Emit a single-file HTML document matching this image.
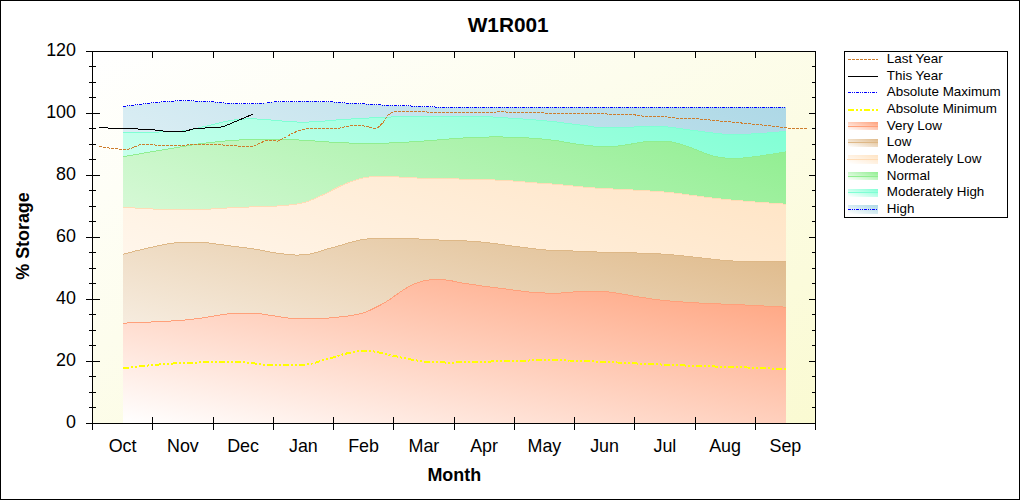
<!DOCTYPE html>
<html><head><meta charset="utf-8"><title>W1R001</title>
<style>
html,body{margin:0;padding:0;background:#fff;}
body{width:1020px;height:500px;overflow:hidden;font-family:"Liberation Sans",sans-serif;}
svg{display:block;}
svg text{font-family:"Liberation Sans",sans-serif;fill:#000;}
</style></head><body>
<svg width="1020" height="500" viewBox="0 0 1020 500">
<rect x="0" y="0" width="1020" height="500" fill="#fff"/>
<g shape-rendering="crispEdges"><defs><linearGradient id="gbg" x1="0" y1="0" x2="1" y2="1"><stop offset="0" stop-color="#FFFFFF"/><stop offset="1" stop-color="#FAFAD2"/></linearGradient><linearGradient id="ghi" x1="0" y1="1" x2="1" y2="0"><stop offset="0" stop-color="#FFFFFF"/><stop offset="1" stop-color="#ADD8E6"/></linearGradient><linearGradient id="gmh" x1="0" y1="1" x2="1" y2="0"><stop offset="0" stop-color="#FFFFFF"/><stop offset="1" stop-color="#7FFFD4"/></linearGradient><linearGradient id="gno" x1="0" y1="1" x2="1" y2="0"><stop offset="0" stop-color="#FFFFFF"/><stop offset="1" stop-color="#90EE90"/></linearGradient><linearGradient id="gml" x1="0" y1="1" x2="1" y2="0"><stop offset="0" stop-color="#FFFFFF"/><stop offset="1" stop-color="#FFE4C4"/></linearGradient><linearGradient id="glo" x1="0" y1="1" x2="1" y2="0"><stop offset="0" stop-color="#FFFFFF"/><stop offset="1" stop-color="#DEB887"/></linearGradient><linearGradient id="gvl" x1="0" y1="1" x2="1" y2="0"><stop offset="0" stop-color="#FFFFFF"/><stop offset="1" stop-color="#FFA07A"/></linearGradient></defs>
<rect x="92" y="51" width="724" height="373" fill="url(#gbg)"/>
<path d="M123.0,106.3 L125.0,106.1 L127.0,105.9 L129.0,105.7 L131.0,105.4 L133.0,105.2 L135.0,105.0 L137.0,104.7 L139.0,104.5 L141.0,104.2 L143.0,104.0 L145.0,103.7 L147.0,103.4 L149.0,103.2 L151.0,102.9 L153.0,102.7 L155.0,102.5 L157.0,102.3 L159.0,102.1 L161.0,101.9 L163.0,101.8 L165.0,101.6 L167.0,101.5 L169.0,101.3 L171.0,101.2 L173.0,101.1 L175.0,101.0 L177.0,100.9 L179.0,100.8 L181.0,100.8 L183.0,100.8 L185.0,100.8 L187.0,100.8 L189.0,100.8 L191.0,100.9 L193.0,100.9 L195.0,101.0 L197.0,101.1 L199.0,101.1 L201.0,101.2 L203.0,101.3 L205.0,101.4 L207.0,101.5 L209.0,101.6 L211.0,101.7 L213.0,101.8 L215.0,102.0 L217.0,102.2 L219.0,102.5 L221.0,102.7 L223.0,102.9 L225.0,103.1 L227.0,103.3 L229.0,103.4 L231.0,103.4 L233.0,103.4 L235.0,103.5 L237.0,103.5 L239.0,103.5 L241.0,103.5 L243.0,103.5 L245.0,103.5 L247.0,103.5 L249.0,103.5 L251.0,103.5 L253.0,103.5 L255.0,103.5 L257.0,103.4 L259.0,103.4 L261.0,103.3 L263.0,103.2 L265.0,103.0 L267.0,102.7 L269.0,102.5 L271.0,102.2 L273.0,102.0 L275.0,101.8 L277.0,101.7 L279.0,101.7 L281.0,101.6 L283.0,101.6 L285.0,101.6 L287.0,101.6 L289.0,101.5 L291.0,101.5 L293.0,101.5 L295.0,101.5 L297.0,101.5 L299.0,101.5 L301.0,101.4 L303.0,101.4 L305.0,101.4 L307.0,101.4 L309.0,101.4 L311.0,101.4 L313.0,101.4 L315.0,101.4 L317.0,101.4 L319.0,101.5 L321.0,101.5 L323.0,101.5 L325.0,101.5 L327.0,101.5 L329.0,101.6 L331.0,101.8 L333.0,102.0 L335.0,102.2 L337.0,102.4 L339.0,102.6 L341.0,102.8 L343.0,102.9 L345.0,103.0 L347.0,103.1 L349.0,103.2 L351.0,103.3 L353.0,103.4 L355.0,103.5 L357.0,103.6 L359.0,103.6 L361.0,103.7 L363.0,103.8 L365.0,104.0 L367.0,104.1 L369.0,104.2 L371.0,104.3 L373.0,104.4 L375.0,104.6 L377.0,104.7 L379.0,104.8 L381.0,104.9 L383.0,105.1 L385.0,105.2 L387.0,105.3 L389.0,105.3 L391.0,105.4 L393.0,105.5 L395.0,105.5 L397.0,105.6 L399.0,105.6 L401.0,105.7 L403.0,105.7 L405.0,105.8 L407.0,105.8 L409.0,105.9 L411.0,106.0 L413.0,106.0 L415.0,106.1 L417.0,106.2 L419.0,106.3 L421.0,106.4 L423.0,106.5 L425.0,106.6 L427.0,106.7 L429.0,106.8 L431.0,106.9 L433.0,106.9 L435.0,107.0 L437.0,107.0 L439.0,107.1 L441.0,107.1 L443.0,107.1 L445.0,107.1 L447.0,107.1 L449.0,107.2 L451.0,107.2 L453.0,107.2 L455.0,107.2 L457.0,107.2 L459.0,107.2 L461.0,107.2 L463.0,107.2 L465.0,107.2 L467.0,107.2 L469.0,107.2 L471.0,107.2 L473.0,107.2 L475.0,107.2 L477.0,107.2 L479.0,107.2 L481.0,107.2 L483.0,107.2 L485.0,107.2 L487.0,107.2 L489.0,107.2 L491.0,107.2 L493.0,107.2 L495.0,107.2 L497.0,107.2 L499.0,107.2 L501.0,107.2 L503.0,107.2 L505.0,107.2 L507.0,107.2 L509.0,107.2 L511.0,107.2 L513.0,107.2 L515.0,107.2 L517.0,107.2 L519.0,107.2 L521.0,107.2 L523.0,107.2 L525.0,107.2 L527.0,107.2 L529.0,107.2 L531.0,107.2 L533.0,107.2 L535.0,107.2 L537.0,107.2 L539.0,107.2 L541.0,107.2 L543.0,107.2 L545.0,107.2 L547.0,107.2 L549.0,107.2 L551.0,107.2 L553.0,107.2 L555.0,107.2 L557.0,107.2 L559.0,107.2 L561.0,107.2 L563.0,107.2 L565.0,107.2 L567.0,107.2 L569.0,107.2 L571.0,107.2 L573.0,107.2 L575.0,107.2 L577.0,107.2 L579.0,107.2 L581.0,107.2 L583.0,107.2 L585.0,107.2 L587.0,107.2 L589.0,107.2 L591.0,107.2 L593.0,107.2 L595.0,107.2 L597.0,107.2 L599.0,107.2 L601.0,107.2 L603.0,107.2 L605.0,107.2 L607.0,107.2 L609.0,107.2 L611.0,107.2 L613.0,107.2 L615.0,107.2 L617.0,107.2 L619.0,107.2 L621.0,107.2 L623.0,107.2 L625.0,107.2 L627.0,107.2 L629.0,107.2 L631.0,107.2 L633.0,107.2 L635.0,107.2 L637.0,107.2 L639.0,107.2 L641.0,107.2 L643.0,107.2 L645.0,107.2 L647.0,107.2 L649.0,107.2 L651.0,107.2 L653.0,107.2 L655.0,107.2 L657.0,107.2 L659.0,107.2 L661.0,107.2 L663.0,107.2 L665.0,107.2 L667.0,107.2 L669.0,107.2 L671.0,107.2 L673.0,107.2 L675.0,107.2 L677.0,107.2 L679.0,107.2 L681.0,107.2 L683.0,107.2 L685.0,107.2 L687.0,107.2 L689.0,107.2 L691.0,107.2 L693.0,107.2 L695.0,107.2 L697.0,107.2 L699.0,107.2 L701.0,107.2 L703.0,107.2 L705.0,107.2 L707.0,107.2 L709.0,107.2 L711.0,107.2 L713.0,107.2 L715.0,107.2 L717.0,107.2 L719.0,107.2 L721.0,107.2 L723.0,107.2 L725.0,107.2 L727.0,107.2 L729.0,107.2 L731.0,107.2 L733.0,107.2 L735.0,107.2 L737.0,107.2 L739.0,107.2 L741.0,107.2 L743.0,107.2 L745.0,107.2 L747.0,107.2 L749.0,107.2 L751.0,107.2 L753.0,107.2 L755.0,107.2 L757.0,107.2 L759.0,107.2 L761.0,107.2 L763.0,107.2 L765.0,107.2 L767.0,107.2 L769.0,107.2 L771.0,107.2 L773.0,107.2 L775.0,107.2 L777.0,107.2 L779.0,107.2 L781.0,107.2 L783.0,107.2 L785.0,107.2 L786.0,107.2 L786.0,423.0 L123.0,423.0 Z" fill="url(#ghi)"/>
<path d="M123.0,106.3 L125.0,106.1 L127.0,105.9 L129.0,105.7 L131.0,105.4 L133.0,105.2 L135.0,105.0 L137.0,104.7 L139.0,104.5 L141.0,104.2 L143.0,104.0 L145.0,103.7 L147.0,103.4 L149.0,103.2 L151.0,102.9 L153.0,102.7 L155.0,102.5 L157.0,102.3 L159.0,102.1 L161.0,101.9 L163.0,101.8 L165.0,101.6 L167.0,101.5 L169.0,101.3 L171.0,101.2 L173.0,101.1 L175.0,101.0 L177.0,100.9 L179.0,100.8 L181.0,100.8 L183.0,100.8 L185.0,100.8 L187.0,100.8 L189.0,100.8 L191.0,100.9 L193.0,100.9 L195.0,101.0 L197.0,101.1 L199.0,101.1 L201.0,101.2 L203.0,101.3 L205.0,101.4 L207.0,101.5 L209.0,101.6 L211.0,101.7 L213.0,101.8 L215.0,102.0 L217.0,102.2 L219.0,102.5 L221.0,102.7 L223.0,102.9 L225.0,103.1 L227.0,103.3 L229.0,103.4 L231.0,103.4 L233.0,103.4 L235.0,103.5 L237.0,103.5 L239.0,103.5 L241.0,103.5 L243.0,103.5 L245.0,103.5 L247.0,103.5 L249.0,103.5 L251.0,103.5 L253.0,103.5 L255.0,103.5 L257.0,103.4 L259.0,103.4 L261.0,103.3 L263.0,103.2 L265.0,103.0 L267.0,102.7 L269.0,102.5 L271.0,102.2 L273.0,102.0 L275.0,101.8 L277.0,101.7 L279.0,101.7 L281.0,101.6 L283.0,101.6 L285.0,101.6 L287.0,101.6 L289.0,101.5 L291.0,101.5 L293.0,101.5 L295.0,101.5 L297.0,101.5 L299.0,101.5 L301.0,101.4 L303.0,101.4 L305.0,101.4 L307.0,101.4 L309.0,101.4 L311.0,101.4 L313.0,101.4 L315.0,101.4 L317.0,101.4 L319.0,101.5 L321.0,101.5 L323.0,101.5 L325.0,101.5 L327.0,101.5 L329.0,101.6 L331.0,101.8 L333.0,102.0 L335.0,102.2 L337.0,102.4 L339.0,102.6 L341.0,102.8 L343.0,102.9 L345.0,103.0 L347.0,103.1 L349.0,103.2 L351.0,103.3 L353.0,103.4 L355.0,103.5 L357.0,103.6 L359.0,103.6 L361.0,103.7 L363.0,103.8 L365.0,104.0 L367.0,104.1 L369.0,104.2 L371.0,104.3 L373.0,104.4 L375.0,104.6 L377.0,104.7 L379.0,104.8 L381.0,104.9 L383.0,105.1 L385.0,105.2 L387.0,105.3 L389.0,105.3 L391.0,105.4 L393.0,105.5 L395.0,105.5 L397.0,105.6 L399.0,105.6 L401.0,105.7 L403.0,105.7 L405.0,105.8 L407.0,105.8 L409.0,105.9 L411.0,106.0 L413.0,106.0 L415.0,106.1 L417.0,106.2 L419.0,106.3 L421.0,106.4 L423.0,106.5 L425.0,106.6 L427.0,106.7 L429.0,106.8 L431.0,106.9 L433.0,106.9 L435.0,107.0 L437.0,107.0 L439.0,107.1 L441.0,107.1 L443.0,107.1 L445.0,107.1 L447.0,107.1 L449.0,107.2 L451.0,107.2 L453.0,107.2 L455.0,107.2 L457.0,107.2 L459.0,107.2 L461.0,107.2 L463.0,107.2 L465.0,107.2 L467.0,107.2 L469.0,107.2 L471.0,107.2 L473.0,107.2 L475.0,107.2 L477.0,107.2 L479.0,107.2 L481.0,107.2 L483.0,107.2 L485.0,107.2 L487.0,107.2 L489.0,107.2 L491.0,107.2 L493.0,107.2 L495.0,107.2 L497.0,107.2 L499.0,107.2 L501.0,107.2 L503.0,107.2 L505.0,107.2 L507.0,107.2 L509.0,107.2 L511.0,107.2 L513.0,107.2 L515.0,107.2 L517.0,107.2 L519.0,107.2 L521.0,107.2 L523.0,107.2 L525.0,107.2 L527.0,107.2 L529.0,107.2 L531.0,107.2 L533.0,107.2 L535.0,107.2 L537.0,107.2 L539.0,107.2 L541.0,107.2 L543.0,107.2 L545.0,107.2 L547.0,107.2 L549.0,107.2 L551.0,107.2 L553.0,107.2 L555.0,107.2 L557.0,107.2 L559.0,107.2 L561.0,107.2 L563.0,107.2 L565.0,107.2 L567.0,107.2 L569.0,107.2 L571.0,107.2 L573.0,107.2 L575.0,107.2 L577.0,107.2 L579.0,107.2 L581.0,107.2 L583.0,107.2 L585.0,107.2 L587.0,107.2 L589.0,107.2 L591.0,107.2 L593.0,107.2 L595.0,107.2 L597.0,107.2 L599.0,107.2 L601.0,107.2 L603.0,107.2 L605.0,107.2 L607.0,107.2 L609.0,107.2 L611.0,107.2 L613.0,107.2 L615.0,107.2 L617.0,107.2 L619.0,107.2 L621.0,107.2 L623.0,107.2 L625.0,107.2 L627.0,107.2 L629.0,107.2 L631.0,107.2 L633.0,107.2 L635.0,107.2 L637.0,107.2 L639.0,107.2 L641.0,107.2 L643.0,107.2 L645.0,107.2 L647.0,107.2 L649.0,107.2 L651.0,107.2 L653.0,107.2 L655.0,107.2 L657.0,107.2 L659.0,107.2 L661.0,107.2 L663.0,107.2 L665.0,107.2 L667.0,107.2 L669.0,107.2 L671.0,107.2 L673.0,107.2 L675.0,107.2 L677.0,107.2 L679.0,107.2 L681.0,107.2 L683.0,107.2 L685.0,107.2 L687.0,107.2 L689.0,107.2 L691.0,107.2 L693.0,107.2 L695.0,107.2 L697.0,107.2 L699.0,107.2 L701.0,107.2 L703.0,107.2 L705.0,107.2 L707.0,107.2 L709.0,107.2 L711.0,107.2 L713.0,107.2 L715.0,107.2 L717.0,107.2 L719.0,107.2 L721.0,107.2 L723.0,107.2 L725.0,107.2 L727.0,107.2 L729.0,107.2 L731.0,107.2 L733.0,107.2 L735.0,107.2 L737.0,107.2 L739.0,107.2 L741.0,107.2 L743.0,107.2 L745.0,107.2 L747.0,107.2 L749.0,107.2 L751.0,107.2 L753.0,107.2 L755.0,107.2 L757.0,107.2 L759.0,107.2 L761.0,107.2 L763.0,107.2 L765.0,107.2 L767.0,107.2 L769.0,107.2 L771.0,107.2 L773.0,107.2 L775.0,107.2 L777.0,107.2 L779.0,107.2 L781.0,107.2 L783.0,107.2 L785.0,107.2 L786.0,107.2" fill="none" stroke="#0000FF" stroke-width="1" stroke-dasharray="3 1 1 1 1 1"/>
<path d="M123.0,132.7 L125.0,132.7 L127.0,132.6 L129.0,132.6 L131.0,132.6 L133.0,132.5 L135.0,132.5 L137.0,132.4 L139.0,132.4 L141.0,132.4 L143.0,132.3 L145.0,132.3 L147.0,132.3 L149.0,132.2 L151.0,132.2 L153.0,132.1 L155.0,132.1 L157.0,132.0 L159.0,132.0 L161.0,131.9 L163.0,131.9 L165.0,131.8 L167.0,131.8 L169.0,131.7 L171.0,131.7 L173.0,131.6 L175.0,131.5 L177.0,131.4 L179.0,131.3 L181.0,131.1 L183.0,130.9 L185.0,130.6 L187.0,130.3 L189.0,130.0 L191.0,129.6 L193.0,129.2 L195.0,128.7 L197.0,128.3 L199.0,127.8 L201.0,127.3 L203.0,126.9 L205.0,126.4 L207.0,126.0 L209.0,125.5 L211.0,125.1 L213.0,124.6 L215.0,124.1 L217.0,123.6 L219.0,123.1 L221.0,122.6 L223.0,122.1 L225.0,121.7 L227.0,121.3 L229.0,120.9 L231.0,120.5 L233.0,120.2 L235.0,119.9 L237.0,119.6 L239.0,119.4 L241.0,119.2 L243.0,119.1 L245.0,119.0 L247.0,118.9 L249.0,118.9 L251.0,118.9 L253.0,118.9 L255.0,118.9 L257.0,119.0 L259.0,119.0 L261.0,119.1 L263.0,119.2 L265.0,119.4 L267.0,119.6 L269.0,119.8 L271.0,120.0 L273.0,120.2 L275.0,120.4 L277.0,120.6 L279.0,120.8 L281.0,120.9 L283.0,121.1 L285.0,121.2 L287.0,121.4 L289.0,121.5 L291.0,121.7 L293.0,121.8 L295.0,121.9 L297.0,122.0 L299.0,122.1 L301.0,122.1 L303.0,122.1 L305.0,122.1 L307.0,122.0 L309.0,122.0 L311.0,121.9 L313.0,121.8 L315.0,121.6 L317.0,121.5 L319.0,121.4 L321.0,121.2 L323.0,121.1 L325.0,121.0 L327.0,120.8 L329.0,120.7 L331.0,120.5 L333.0,120.3 L335.0,120.1 L337.0,119.9 L339.0,119.8 L341.0,119.6 L343.0,119.5 L345.0,119.4 L347.0,119.2 L349.0,119.1 L351.0,119.0 L353.0,118.9 L355.0,118.8 L357.0,118.7 L359.0,118.6 L361.0,118.5 L363.0,118.4 L365.0,118.2 L367.0,118.1 L369.0,118.0 L371.0,117.9 L373.0,117.8 L375.0,117.7 L377.0,117.6 L379.0,117.5 L381.0,117.4 L383.0,117.3 L385.0,117.2 L387.0,117.1 L389.0,117.1 L391.0,117.0 L393.0,116.9 L395.0,116.7 L397.0,116.6 L399.0,116.5 L401.0,116.4 L403.0,116.4 L405.0,116.3 L407.0,116.2 L409.0,116.2 L411.0,116.1 L413.0,116.1 L415.0,116.1 L417.0,116.1 L419.0,116.1 L421.0,116.1 L423.0,116.1 L425.0,116.1 L427.0,116.1 L429.0,116.1 L431.0,116.1 L433.0,116.1 L435.0,116.1 L437.0,116.1 L439.0,116.1 L441.0,116.1 L443.0,116.1 L445.0,116.1 L447.0,116.1 L449.0,116.1 L451.0,116.1 L453.0,116.1 L455.0,116.1 L457.0,116.1 L459.0,116.1 L461.0,116.1 L463.0,116.1 L465.0,116.1 L467.0,116.2 L469.0,116.2 L471.0,116.2 L473.0,116.3 L475.0,116.3 L477.0,116.4 L479.0,116.4 L481.0,116.5 L483.0,116.6 L485.0,116.6 L487.0,116.7 L489.0,116.8 L491.0,116.9 L493.0,117.0 L495.0,117.2 L497.0,117.3 L499.0,117.4 L501.0,117.5 L503.0,117.7 L505.0,117.8 L507.0,117.9 L509.0,118.1 L511.0,118.2 L513.0,118.3 L515.0,118.5 L517.0,118.6 L519.0,118.7 L521.0,118.9 L523.0,119.0 L525.0,119.2 L527.0,119.3 L529.0,119.5 L531.0,119.6 L533.0,119.8 L535.0,119.9 L537.0,120.1 L539.0,120.3 L541.0,120.4 L543.0,120.6 L545.0,120.8 L547.0,121.0 L549.0,121.2 L551.0,121.4 L553.0,121.6 L555.0,121.8 L557.0,122.0 L559.0,122.3 L561.0,122.5 L563.0,122.8 L565.0,123.1 L567.0,123.4 L569.0,123.7 L571.0,123.9 L573.0,124.2 L575.0,124.4 L577.0,124.6 L579.0,124.9 L581.0,125.1 L583.0,125.4 L585.0,125.6 L587.0,125.9 L589.0,126.2 L591.0,126.6 L593.0,126.9 L595.0,127.1 L597.0,127.2 L599.0,127.2 L601.0,127.3 L603.0,127.3 L605.0,127.3 L607.0,127.4 L609.0,127.4 L611.0,127.4 L613.0,127.4 L615.0,127.4 L617.0,127.4 L619.0,127.4 L621.0,127.4 L623.0,127.4 L625.0,127.3 L627.0,127.3 L629.0,127.3 L631.0,127.3 L633.0,127.1 L635.0,126.9 L637.0,126.6 L639.0,126.4 L641.0,126.3 L643.0,126.3 L645.0,126.2 L647.0,126.2 L649.0,126.2 L651.0,126.2 L653.0,126.2 L655.0,126.2 L657.0,126.2 L659.0,126.3 L661.0,126.3 L663.0,126.3 L665.0,126.5 L667.0,126.8 L669.0,127.1 L671.0,127.4 L673.0,127.7 L675.0,127.9 L677.0,128.2 L679.0,128.5 L681.0,128.7 L683.0,129.0 L685.0,129.3 L687.0,129.5 L689.0,129.8 L691.0,130.1 L693.0,130.3 L695.0,130.6 L697.0,130.9 L699.0,131.1 L701.0,131.4 L703.0,131.7 L705.0,132.0 L707.0,132.2 L709.0,132.5 L711.0,132.8 L713.0,133.0 L715.0,133.2 L717.0,133.4 L719.0,133.7 L721.0,133.9 L723.0,134.1 L725.0,134.3 L727.0,134.5 L729.0,134.6 L731.0,134.7 L733.0,134.7 L735.0,134.7 L737.0,134.7 L739.0,134.6 L741.0,134.5 L743.0,134.5 L745.0,134.4 L747.0,134.2 L749.0,134.1 L751.0,134.0 L753.0,133.9 L755.0,133.8 L757.0,133.7 L759.0,133.6 L761.0,133.4 L763.0,133.3 L765.0,133.1 L767.0,133.0 L769.0,132.8 L771.0,132.6 L773.0,132.5 L775.0,132.3 L777.0,132.1 L779.0,132.0 L781.0,131.8 L783.0,131.6 L785.0,131.4 L786.0,131.3 L786.0,423.0 L123.0,423.0 Z" fill="url(#gmh)"/>
<path d="M123.0,132.7 L125.0,132.7 L127.0,132.6 L129.0,132.6 L131.0,132.6 L133.0,132.5 L135.0,132.5 L137.0,132.4 L139.0,132.4 L141.0,132.4 L143.0,132.3 L145.0,132.3 L147.0,132.3 L149.0,132.2 L151.0,132.2 L153.0,132.1 L155.0,132.1 L157.0,132.0 L159.0,132.0 L161.0,131.9 L163.0,131.9 L165.0,131.8 L167.0,131.8 L169.0,131.7 L171.0,131.7 L173.0,131.6 L175.0,131.5 L177.0,131.4 L179.0,131.3 L181.0,131.1 L183.0,130.9 L185.0,130.6 L187.0,130.3 L189.0,130.0 L191.0,129.6 L193.0,129.2 L195.0,128.7 L197.0,128.3 L199.0,127.8 L201.0,127.3 L203.0,126.9 L205.0,126.4 L207.0,126.0 L209.0,125.5 L211.0,125.1 L213.0,124.6 L215.0,124.1 L217.0,123.6 L219.0,123.1 L221.0,122.6 L223.0,122.1 L225.0,121.7 L227.0,121.3 L229.0,120.9 L231.0,120.5 L233.0,120.2 L235.0,119.9 L237.0,119.6 L239.0,119.4 L241.0,119.2 L243.0,119.1 L245.0,119.0 L247.0,118.9 L249.0,118.9 L251.0,118.9 L253.0,118.9 L255.0,118.9 L257.0,119.0 L259.0,119.0 L261.0,119.1 L263.0,119.2 L265.0,119.4 L267.0,119.6 L269.0,119.8 L271.0,120.0 L273.0,120.2 L275.0,120.4 L277.0,120.6 L279.0,120.8 L281.0,120.9 L283.0,121.1 L285.0,121.2 L287.0,121.4 L289.0,121.5 L291.0,121.7 L293.0,121.8 L295.0,121.9 L297.0,122.0 L299.0,122.1 L301.0,122.1 L303.0,122.1 L305.0,122.1 L307.0,122.0 L309.0,122.0 L311.0,121.9 L313.0,121.8 L315.0,121.6 L317.0,121.5 L319.0,121.4 L321.0,121.2 L323.0,121.1 L325.0,121.0 L327.0,120.8 L329.0,120.7 L331.0,120.5 L333.0,120.3 L335.0,120.1 L337.0,119.9 L339.0,119.8 L341.0,119.6 L343.0,119.5 L345.0,119.4 L347.0,119.2 L349.0,119.1 L351.0,119.0 L353.0,118.9 L355.0,118.8 L357.0,118.7 L359.0,118.6 L361.0,118.5 L363.0,118.4 L365.0,118.2 L367.0,118.1 L369.0,118.0 L371.0,117.9 L373.0,117.8 L375.0,117.7 L377.0,117.6 L379.0,117.5 L381.0,117.4 L383.0,117.3 L385.0,117.2 L387.0,117.1 L389.0,117.1 L391.0,117.0 L393.0,116.9 L395.0,116.7 L397.0,116.6 L399.0,116.5 L401.0,116.4 L403.0,116.4 L405.0,116.3 L407.0,116.2 L409.0,116.2 L411.0,116.1 L413.0,116.1 L415.0,116.1 L417.0,116.1 L419.0,116.1 L421.0,116.1 L423.0,116.1 L425.0,116.1 L427.0,116.1 L429.0,116.1 L431.0,116.1 L433.0,116.1 L435.0,116.1 L437.0,116.1 L439.0,116.1 L441.0,116.1 L443.0,116.1 L445.0,116.1 L447.0,116.1 L449.0,116.1 L451.0,116.1 L453.0,116.1 L455.0,116.1 L457.0,116.1 L459.0,116.1 L461.0,116.1 L463.0,116.1 L465.0,116.1 L467.0,116.2 L469.0,116.2 L471.0,116.2 L473.0,116.3 L475.0,116.3 L477.0,116.4 L479.0,116.4 L481.0,116.5 L483.0,116.6 L485.0,116.6 L487.0,116.7 L489.0,116.8 L491.0,116.9 L493.0,117.0 L495.0,117.2 L497.0,117.3 L499.0,117.4 L501.0,117.5 L503.0,117.7 L505.0,117.8 L507.0,117.9 L509.0,118.1 L511.0,118.2 L513.0,118.3 L515.0,118.5 L517.0,118.6 L519.0,118.7 L521.0,118.9 L523.0,119.0 L525.0,119.2 L527.0,119.3 L529.0,119.5 L531.0,119.6 L533.0,119.8 L535.0,119.9 L537.0,120.1 L539.0,120.3 L541.0,120.4 L543.0,120.6 L545.0,120.8 L547.0,121.0 L549.0,121.2 L551.0,121.4 L553.0,121.6 L555.0,121.8 L557.0,122.0 L559.0,122.3 L561.0,122.5 L563.0,122.8 L565.0,123.1 L567.0,123.4 L569.0,123.7 L571.0,123.9 L573.0,124.2 L575.0,124.4 L577.0,124.6 L579.0,124.9 L581.0,125.1 L583.0,125.4 L585.0,125.6 L587.0,125.9 L589.0,126.2 L591.0,126.6 L593.0,126.9 L595.0,127.1 L597.0,127.2 L599.0,127.2 L601.0,127.3 L603.0,127.3 L605.0,127.3 L607.0,127.4 L609.0,127.4 L611.0,127.4 L613.0,127.4 L615.0,127.4 L617.0,127.4 L619.0,127.4 L621.0,127.4 L623.0,127.4 L625.0,127.3 L627.0,127.3 L629.0,127.3 L631.0,127.3 L633.0,127.1 L635.0,126.9 L637.0,126.6 L639.0,126.4 L641.0,126.3 L643.0,126.3 L645.0,126.2 L647.0,126.2 L649.0,126.2 L651.0,126.2 L653.0,126.2 L655.0,126.2 L657.0,126.2 L659.0,126.3 L661.0,126.3 L663.0,126.3 L665.0,126.5 L667.0,126.8 L669.0,127.1 L671.0,127.4 L673.0,127.7 L675.0,127.9 L677.0,128.2 L679.0,128.5 L681.0,128.7 L683.0,129.0 L685.0,129.3 L687.0,129.5 L689.0,129.8 L691.0,130.1 L693.0,130.3 L695.0,130.6 L697.0,130.9 L699.0,131.1 L701.0,131.4 L703.0,131.7 L705.0,132.0 L707.0,132.2 L709.0,132.5 L711.0,132.8 L713.0,133.0 L715.0,133.2 L717.0,133.4 L719.0,133.7 L721.0,133.9 L723.0,134.1 L725.0,134.3 L727.0,134.5 L729.0,134.6 L731.0,134.7 L733.0,134.7 L735.0,134.7 L737.0,134.7 L739.0,134.6 L741.0,134.5 L743.0,134.5 L745.0,134.4 L747.0,134.2 L749.0,134.1 L751.0,134.0 L753.0,133.9 L755.0,133.8 L757.0,133.7 L759.0,133.6 L761.0,133.4 L763.0,133.3 L765.0,133.1 L767.0,133.0 L769.0,132.8 L771.0,132.6 L773.0,132.5 L775.0,132.3 L777.0,132.1 L779.0,132.0 L781.0,131.8 L783.0,131.6 L785.0,131.4 L786.0,131.3" fill="none" stroke="#7FFFD4" stroke-width="1"/>
<path d="M123.0,156.7 L125.0,156.4 L127.0,156.0 L129.0,155.7 L131.0,155.3 L133.0,155.0 L135.0,154.6 L137.0,154.3 L139.0,154.0 L141.0,153.6 L143.0,153.3 L145.0,152.9 L147.0,152.6 L149.0,152.2 L151.0,151.9 L153.0,151.6 L155.0,151.2 L157.0,150.9 L159.0,150.5 L161.0,150.2 L163.0,149.8 L165.0,149.5 L167.0,149.1 L169.0,148.8 L171.0,148.4 L173.0,148.1 L175.0,147.8 L177.0,147.4 L179.0,147.1 L181.0,146.8 L183.0,146.4 L185.0,146.1 L187.0,145.8 L189.0,145.5 L191.0,145.2 L193.0,144.8 L195.0,144.5 L197.0,144.2 L199.0,143.9 L201.0,143.7 L203.0,143.4 L205.0,143.1 L207.0,142.9 L209.0,142.6 L211.0,142.4 L213.0,142.2 L215.0,142.0 L217.0,141.7 L219.0,141.5 L221.0,141.3 L223.0,141.2 L225.0,141.0 L227.0,140.8 L229.0,140.7 L231.0,140.5 L233.0,140.4 L235.0,140.3 L237.0,140.1 L239.0,140.0 L241.0,139.9 L243.0,139.8 L245.0,139.7 L247.0,139.6 L249.0,139.5 L251.0,139.5 L253.0,139.4 L255.0,139.4 L257.0,139.4 L259.0,139.4 L261.0,139.3 L263.0,139.3 L265.0,139.3 L267.0,139.3 L269.0,139.3 L271.0,139.4 L273.0,139.4 L275.0,139.4 L277.0,139.4 L279.0,139.4 L281.0,139.4 L283.0,139.5 L285.0,139.5 L287.0,139.6 L289.0,139.6 L291.0,139.7 L293.0,139.7 L295.0,139.8 L297.0,139.9 L299.0,140.0 L301.0,140.1 L303.0,140.1 L305.0,140.3 L307.0,140.4 L309.0,140.5 L311.0,140.7 L313.0,140.8 L315.0,141.0 L317.0,141.1 L319.0,141.3 L321.0,141.5 L323.0,141.6 L325.0,141.7 L327.0,141.9 L329.0,142.0 L331.0,142.1 L333.0,142.2 L335.0,142.3 L337.0,142.4 L339.0,142.5 L341.0,142.6 L343.0,142.7 L345.0,142.8 L347.0,142.9 L349.0,143.0 L351.0,143.2 L353.0,143.3 L355.0,143.4 L357.0,143.5 L359.0,143.6 L361.0,143.7 L363.0,143.7 L365.0,143.7 L367.0,143.7 L369.0,143.7 L371.0,143.6 L373.0,143.6 L375.0,143.5 L377.0,143.4 L379.0,143.4 L381.0,143.3 L383.0,143.2 L385.0,143.1 L387.0,143.0 L389.0,143.0 L391.0,142.9 L393.0,142.8 L395.0,142.7 L397.0,142.6 L399.0,142.5 L401.0,142.4 L403.0,142.3 L405.0,142.2 L407.0,142.1 L409.0,142.0 L411.0,141.9 L413.0,141.7 L415.0,141.6 L417.0,141.5 L419.0,141.3 L421.0,141.2 L423.0,141.1 L425.0,140.9 L427.0,140.8 L429.0,140.6 L431.0,140.5 L433.0,140.3 L435.0,140.2 L437.0,140.0 L439.0,139.9 L441.0,139.7 L443.0,139.5 L445.0,139.4 L447.0,139.2 L449.0,139.0 L451.0,138.9 L453.0,138.7 L455.0,138.5 L457.0,138.4 L459.0,138.3 L461.0,138.1 L463.0,138.0 L465.0,137.9 L467.0,137.8 L469.0,137.6 L471.0,137.5 L473.0,137.4 L475.0,137.3 L477.0,137.2 L479.0,137.1 L481.0,137.1 L483.0,137.0 L485.0,137.0 L487.0,137.0 L489.0,137.0 L491.0,136.9 L493.0,136.9 L495.0,136.9 L497.0,136.9 L499.0,136.9 L501.0,136.9 L503.0,137.0 L505.0,137.0 L507.0,137.0 L509.0,137.0 L511.0,137.1 L513.0,137.1 L515.0,137.2 L517.0,137.3 L519.0,137.4 L521.0,137.5 L523.0,137.6 L525.0,137.7 L527.0,137.9 L529.0,138.0 L531.0,138.1 L533.0,138.3 L535.0,138.4 L537.0,138.6 L539.0,138.8 L541.0,138.9 L543.0,139.1 L545.0,139.3 L547.0,139.5 L549.0,139.8 L551.0,140.0 L553.0,140.2 L555.0,140.5 L557.0,140.7 L559.0,141.0 L561.0,141.4 L563.0,141.8 L565.0,142.1 L567.0,142.5 L569.0,142.8 L571.0,143.1 L573.0,143.4 L575.0,143.8 L577.0,144.1 L579.0,144.4 L581.0,144.6 L583.0,144.9 L585.0,145.2 L587.0,145.4 L589.0,145.7 L591.0,145.9 L593.0,146.0 L595.0,146.2 L597.0,146.3 L599.0,146.4 L601.0,146.5 L603.0,146.6 L605.0,146.6 L607.0,146.6 L609.0,146.6 L611.0,146.6 L613.0,146.5 L615.0,146.3 L617.0,146.1 L619.0,145.9 L621.0,145.6 L623.0,145.3 L625.0,145.0 L627.0,144.6 L629.0,144.3 L631.0,144.1 L633.0,143.7 L635.0,143.4 L637.0,143.0 L639.0,142.7 L641.0,142.3 L643.0,142.0 L645.0,141.7 L647.0,141.5 L649.0,141.3 L651.0,141.2 L653.0,141.1 L655.0,141.1 L657.0,141.0 L659.0,141.0 L661.0,141.0 L663.0,141.0 L665.0,141.1 L667.0,141.2 L669.0,141.4 L671.0,141.8 L673.0,142.2 L675.0,142.7 L677.0,143.2 L679.0,143.8 L681.0,144.3 L683.0,144.9 L685.0,145.6 L687.0,146.2 L689.0,146.9 L691.0,147.7 L693.0,148.4 L695.0,149.3 L697.0,150.1 L699.0,150.9 L701.0,151.7 L703.0,152.5 L705.0,153.3 L707.0,154.0 L709.0,154.8 L711.0,155.4 L713.0,156.0 L715.0,156.4 L717.0,156.8 L719.0,157.1 L721.0,157.5 L723.0,157.8 L725.0,158.0 L727.0,158.3 L729.0,158.4 L731.0,158.5 L733.0,158.6 L735.0,158.6 L737.0,158.5 L739.0,158.4 L741.0,158.2 L743.0,158.0 L745.0,157.8 L747.0,157.6 L749.0,157.3 L751.0,157.1 L753.0,156.8 L755.0,156.6 L757.0,156.3 L759.0,156.1 L761.0,155.8 L763.0,155.5 L765.0,155.2 L767.0,154.9 L769.0,154.6 L771.0,154.3 L773.0,154.0 L775.0,153.6 L777.0,153.3 L779.0,153.0 L781.0,152.7 L783.0,152.4 L785.0,152.1 L786.0,151.9 L786.0,423.0 L123.0,423.0 Z" fill="url(#gno)"/>
<path d="M123.0,156.7 L125.0,156.4 L127.0,156.0 L129.0,155.7 L131.0,155.3 L133.0,155.0 L135.0,154.6 L137.0,154.3 L139.0,154.0 L141.0,153.6 L143.0,153.3 L145.0,152.9 L147.0,152.6 L149.0,152.2 L151.0,151.9 L153.0,151.6 L155.0,151.2 L157.0,150.9 L159.0,150.5 L161.0,150.2 L163.0,149.8 L165.0,149.5 L167.0,149.1 L169.0,148.8 L171.0,148.4 L173.0,148.1 L175.0,147.8 L177.0,147.4 L179.0,147.1 L181.0,146.8 L183.0,146.4 L185.0,146.1 L187.0,145.8 L189.0,145.5 L191.0,145.2 L193.0,144.8 L195.0,144.5 L197.0,144.2 L199.0,143.9 L201.0,143.7 L203.0,143.4 L205.0,143.1 L207.0,142.9 L209.0,142.6 L211.0,142.4 L213.0,142.2 L215.0,142.0 L217.0,141.7 L219.0,141.5 L221.0,141.3 L223.0,141.2 L225.0,141.0 L227.0,140.8 L229.0,140.7 L231.0,140.5 L233.0,140.4 L235.0,140.3 L237.0,140.1 L239.0,140.0 L241.0,139.9 L243.0,139.8 L245.0,139.7 L247.0,139.6 L249.0,139.5 L251.0,139.5 L253.0,139.4 L255.0,139.4 L257.0,139.4 L259.0,139.4 L261.0,139.3 L263.0,139.3 L265.0,139.3 L267.0,139.3 L269.0,139.3 L271.0,139.4 L273.0,139.4 L275.0,139.4 L277.0,139.4 L279.0,139.4 L281.0,139.4 L283.0,139.5 L285.0,139.5 L287.0,139.6 L289.0,139.6 L291.0,139.7 L293.0,139.7 L295.0,139.8 L297.0,139.9 L299.0,140.0 L301.0,140.1 L303.0,140.1 L305.0,140.3 L307.0,140.4 L309.0,140.5 L311.0,140.7 L313.0,140.8 L315.0,141.0 L317.0,141.1 L319.0,141.3 L321.0,141.5 L323.0,141.6 L325.0,141.7 L327.0,141.9 L329.0,142.0 L331.0,142.1 L333.0,142.2 L335.0,142.3 L337.0,142.4 L339.0,142.5 L341.0,142.6 L343.0,142.7 L345.0,142.8 L347.0,142.9 L349.0,143.0 L351.0,143.2 L353.0,143.3 L355.0,143.4 L357.0,143.5 L359.0,143.6 L361.0,143.7 L363.0,143.7 L365.0,143.7 L367.0,143.7 L369.0,143.7 L371.0,143.6 L373.0,143.6 L375.0,143.5 L377.0,143.4 L379.0,143.4 L381.0,143.3 L383.0,143.2 L385.0,143.1 L387.0,143.0 L389.0,143.0 L391.0,142.9 L393.0,142.8 L395.0,142.7 L397.0,142.6 L399.0,142.5 L401.0,142.4 L403.0,142.3 L405.0,142.2 L407.0,142.1 L409.0,142.0 L411.0,141.9 L413.0,141.7 L415.0,141.6 L417.0,141.5 L419.0,141.3 L421.0,141.2 L423.0,141.1 L425.0,140.9 L427.0,140.8 L429.0,140.6 L431.0,140.5 L433.0,140.3 L435.0,140.2 L437.0,140.0 L439.0,139.9 L441.0,139.7 L443.0,139.5 L445.0,139.4 L447.0,139.2 L449.0,139.0 L451.0,138.9 L453.0,138.7 L455.0,138.5 L457.0,138.4 L459.0,138.3 L461.0,138.1 L463.0,138.0 L465.0,137.9 L467.0,137.8 L469.0,137.6 L471.0,137.5 L473.0,137.4 L475.0,137.3 L477.0,137.2 L479.0,137.1 L481.0,137.1 L483.0,137.0 L485.0,137.0 L487.0,137.0 L489.0,137.0 L491.0,136.9 L493.0,136.9 L495.0,136.9 L497.0,136.9 L499.0,136.9 L501.0,136.9 L503.0,137.0 L505.0,137.0 L507.0,137.0 L509.0,137.0 L511.0,137.1 L513.0,137.1 L515.0,137.2 L517.0,137.3 L519.0,137.4 L521.0,137.5 L523.0,137.6 L525.0,137.7 L527.0,137.9 L529.0,138.0 L531.0,138.1 L533.0,138.3 L535.0,138.4 L537.0,138.6 L539.0,138.8 L541.0,138.9 L543.0,139.1 L545.0,139.3 L547.0,139.5 L549.0,139.8 L551.0,140.0 L553.0,140.2 L555.0,140.5 L557.0,140.7 L559.0,141.0 L561.0,141.4 L563.0,141.8 L565.0,142.1 L567.0,142.5 L569.0,142.8 L571.0,143.1 L573.0,143.4 L575.0,143.8 L577.0,144.1 L579.0,144.4 L581.0,144.6 L583.0,144.9 L585.0,145.2 L587.0,145.4 L589.0,145.7 L591.0,145.9 L593.0,146.0 L595.0,146.2 L597.0,146.3 L599.0,146.4 L601.0,146.5 L603.0,146.6 L605.0,146.6 L607.0,146.6 L609.0,146.6 L611.0,146.6 L613.0,146.5 L615.0,146.3 L617.0,146.1 L619.0,145.9 L621.0,145.6 L623.0,145.3 L625.0,145.0 L627.0,144.6 L629.0,144.3 L631.0,144.1 L633.0,143.7 L635.0,143.4 L637.0,143.0 L639.0,142.7 L641.0,142.3 L643.0,142.0 L645.0,141.7 L647.0,141.5 L649.0,141.3 L651.0,141.2 L653.0,141.1 L655.0,141.1 L657.0,141.0 L659.0,141.0 L661.0,141.0 L663.0,141.0 L665.0,141.1 L667.0,141.2 L669.0,141.4 L671.0,141.8 L673.0,142.2 L675.0,142.7 L677.0,143.2 L679.0,143.8 L681.0,144.3 L683.0,144.9 L685.0,145.6 L687.0,146.2 L689.0,146.9 L691.0,147.7 L693.0,148.4 L695.0,149.3 L697.0,150.1 L699.0,150.9 L701.0,151.7 L703.0,152.5 L705.0,153.3 L707.0,154.0 L709.0,154.8 L711.0,155.4 L713.0,156.0 L715.0,156.4 L717.0,156.8 L719.0,157.1 L721.0,157.5 L723.0,157.8 L725.0,158.0 L727.0,158.3 L729.0,158.4 L731.0,158.5 L733.0,158.6 L735.0,158.6 L737.0,158.5 L739.0,158.4 L741.0,158.2 L743.0,158.0 L745.0,157.8 L747.0,157.6 L749.0,157.3 L751.0,157.1 L753.0,156.8 L755.0,156.6 L757.0,156.3 L759.0,156.1 L761.0,155.8 L763.0,155.5 L765.0,155.2 L767.0,154.9 L769.0,154.6 L771.0,154.3 L773.0,154.0 L775.0,153.6 L777.0,153.3 L779.0,153.0 L781.0,152.7 L783.0,152.4 L785.0,152.1 L786.0,151.9" fill="none" stroke="#90EE90" stroke-width="1"/>
<path d="M123.0,207.3 L125.0,207.4 L127.0,207.5 L129.0,207.6 L131.0,207.8 L133.0,207.9 L135.0,208.0 L137.0,208.1 L139.0,208.2 L141.0,208.4 L143.0,208.5 L145.0,208.6 L147.0,208.7 L149.0,208.8 L151.0,208.9 L153.0,209.0 L155.0,209.1 L157.0,209.2 L159.0,209.2 L161.0,209.3 L163.0,209.4 L165.0,209.4 L167.0,209.5 L169.0,209.5 L171.0,209.6 L173.0,209.6 L175.0,209.6 L177.0,209.7 L179.0,209.7 L181.0,209.7 L183.0,209.7 L185.0,209.7 L187.0,209.7 L189.0,209.6 L191.0,209.6 L193.0,209.6 L195.0,209.5 L197.0,209.5 L199.0,209.4 L201.0,209.4 L203.0,209.3 L205.0,209.2 L207.0,209.2 L209.0,209.1 L211.0,209.0 L213.0,208.9 L215.0,208.7 L217.0,208.6 L219.0,208.5 L221.0,208.3 L223.0,208.2 L225.0,208.1 L227.0,208.0 L229.0,207.9 L231.0,207.8 L233.0,207.7 L235.0,207.6 L237.0,207.5 L239.0,207.4 L241.0,207.3 L243.0,207.2 L245.0,207.2 L247.0,207.1 L249.0,207.0 L251.0,206.9 L253.0,206.8 L255.0,206.8 L257.0,206.7 L259.0,206.6 L261.0,206.6 L263.0,206.5 L265.0,206.5 L267.0,206.4 L269.0,206.3 L271.0,206.3 L273.0,206.2 L275.0,206.1 L277.0,206.0 L279.0,205.8 L281.0,205.7 L283.0,205.5 L285.0,205.4 L287.0,205.2 L289.0,205.0 L291.0,204.8 L293.0,204.6 L295.0,204.3 L297.0,204.0 L299.0,203.6 L301.0,203.2 L303.0,202.8 L305.0,202.2 L307.0,201.6 L309.0,200.9 L311.0,200.1 L313.0,199.3 L315.0,198.4 L317.0,197.5 L319.0,196.6 L321.0,195.7 L323.0,194.8 L325.0,193.9 L327.0,192.9 L329.0,191.9 L331.0,190.9 L333.0,189.8 L335.0,188.7 L337.0,187.7 L339.0,186.7 L341.0,185.7 L343.0,184.9 L345.0,184.0 L347.0,183.2 L349.0,182.5 L351.0,181.8 L353.0,181.1 L355.0,180.3 L357.0,179.7 L359.0,179.0 L361.0,178.5 L363.0,178.0 L365.0,177.6 L367.0,177.3 L369.0,177.0 L371.0,176.8 L373.0,176.6 L375.0,176.4 L377.0,176.2 L379.0,176.1 L381.0,176.1 L383.0,176.1 L385.0,176.2 L387.0,176.2 L389.0,176.4 L391.0,176.5 L393.0,176.6 L395.0,176.8 L397.0,176.9 L399.0,177.0 L401.0,177.2 L403.0,177.3 L405.0,177.4 L407.0,177.5 L409.0,177.7 L411.0,177.8 L413.0,177.8 L415.0,177.9 L417.0,178.0 L419.0,178.0 L421.0,178.1 L423.0,178.2 L425.0,178.2 L427.0,178.3 L429.0,178.3 L431.0,178.4 L433.0,178.4 L435.0,178.5 L437.0,178.5 L439.0,178.6 L441.0,178.6 L443.0,178.7 L445.0,178.7 L447.0,178.7 L449.0,178.8 L451.0,178.8 L453.0,178.9 L455.0,178.9 L457.0,178.9 L459.0,179.0 L461.0,179.0 L463.0,179.1 L465.0,179.1 L467.0,179.1 L469.0,179.2 L471.0,179.2 L473.0,179.2 L475.0,179.3 L477.0,179.3 L479.0,179.4 L481.0,179.4 L483.0,179.5 L485.0,179.5 L487.0,179.6 L489.0,179.7 L491.0,179.8 L493.0,179.9 L495.0,180.0 L497.0,180.1 L499.0,180.2 L501.0,180.3 L503.0,180.4 L505.0,180.5 L507.0,180.6 L509.0,180.8 L511.0,180.9 L513.0,181.0 L515.0,181.2 L517.0,181.4 L519.0,181.5 L521.0,181.7 L523.0,181.9 L525.0,182.0 L527.0,182.2 L529.0,182.4 L531.0,182.5 L533.0,182.7 L535.0,182.8 L537.0,183.0 L539.0,183.1 L541.0,183.2 L543.0,183.4 L545.0,183.5 L547.0,183.6 L549.0,183.8 L551.0,183.9 L553.0,184.1 L555.0,184.2 L557.0,184.4 L559.0,184.6 L561.0,184.8 L563.0,185.0 L565.0,185.2 L567.0,185.4 L569.0,185.6 L571.0,185.8 L573.0,186.0 L575.0,186.2 L577.0,186.4 L579.0,186.6 L581.0,186.8 L583.0,187.0 L585.0,187.1 L587.0,187.3 L589.0,187.5 L591.0,187.7 L593.0,187.8 L595.0,188.0 L597.0,188.1 L599.0,188.2 L601.0,188.4 L603.0,188.5 L605.0,188.6 L607.0,188.7 L609.0,188.8 L611.0,188.9 L613.0,189.0 L615.0,189.1 L617.0,189.2 L619.0,189.4 L621.0,189.5 L623.0,189.6 L625.0,189.7 L627.0,189.7 L629.0,189.8 L631.0,189.9 L633.0,190.0 L635.0,190.1 L637.0,190.2 L639.0,190.3 L641.0,190.4 L643.0,190.6 L645.0,190.7 L647.0,190.8 L649.0,190.9 L651.0,191.1 L653.0,191.2 L655.0,191.3 L657.0,191.5 L659.0,191.6 L661.0,191.8 L663.0,191.9 L665.0,192.1 L667.0,192.3 L669.0,192.5 L671.0,192.7 L673.0,192.9 L675.0,193.2 L677.0,193.4 L679.0,193.7 L681.0,193.9 L683.0,194.2 L685.0,194.5 L687.0,194.7 L689.0,195.0 L691.0,195.2 L693.0,195.5 L695.0,195.7 L697.0,196.0 L699.0,196.3 L701.0,196.5 L703.0,196.8 L705.0,197.1 L707.0,197.3 L709.0,197.6 L711.0,197.8 L713.0,198.1 L715.0,198.3 L717.0,198.5 L719.0,198.8 L721.0,199.0 L723.0,199.2 L725.0,199.4 L727.0,199.6 L729.0,199.8 L731.0,200.0 L733.0,200.1 L735.0,200.3 L737.0,200.5 L739.0,200.7 L741.0,200.9 L743.0,201.0 L745.0,201.2 L747.0,201.4 L749.0,201.5 L751.0,201.7 L753.0,201.8 L755.0,202.0 L757.0,202.1 L759.0,202.3 L761.0,202.4 L763.0,202.6 L765.0,202.7 L767.0,202.9 L769.0,203.0 L771.0,203.2 L773.0,203.3 L775.0,203.4 L777.0,203.6 L779.0,203.7 L781.0,203.8 L783.0,204.0 L785.0,204.1 L786.0,204.2 L786.0,423.0 L123.0,423.0 Z" fill="url(#gml)"/>
<path d="M123.0,207.3 L125.0,207.4 L127.0,207.5 L129.0,207.6 L131.0,207.8 L133.0,207.9 L135.0,208.0 L137.0,208.1 L139.0,208.2 L141.0,208.4 L143.0,208.5 L145.0,208.6 L147.0,208.7 L149.0,208.8 L151.0,208.9 L153.0,209.0 L155.0,209.1 L157.0,209.2 L159.0,209.2 L161.0,209.3 L163.0,209.4 L165.0,209.4 L167.0,209.5 L169.0,209.5 L171.0,209.6 L173.0,209.6 L175.0,209.6 L177.0,209.7 L179.0,209.7 L181.0,209.7 L183.0,209.7 L185.0,209.7 L187.0,209.7 L189.0,209.6 L191.0,209.6 L193.0,209.6 L195.0,209.5 L197.0,209.5 L199.0,209.4 L201.0,209.4 L203.0,209.3 L205.0,209.2 L207.0,209.2 L209.0,209.1 L211.0,209.0 L213.0,208.9 L215.0,208.7 L217.0,208.6 L219.0,208.5 L221.0,208.3 L223.0,208.2 L225.0,208.1 L227.0,208.0 L229.0,207.9 L231.0,207.8 L233.0,207.7 L235.0,207.6 L237.0,207.5 L239.0,207.4 L241.0,207.3 L243.0,207.2 L245.0,207.2 L247.0,207.1 L249.0,207.0 L251.0,206.9 L253.0,206.8 L255.0,206.8 L257.0,206.7 L259.0,206.6 L261.0,206.6 L263.0,206.5 L265.0,206.5 L267.0,206.4 L269.0,206.3 L271.0,206.3 L273.0,206.2 L275.0,206.1 L277.0,206.0 L279.0,205.8 L281.0,205.7 L283.0,205.5 L285.0,205.4 L287.0,205.2 L289.0,205.0 L291.0,204.8 L293.0,204.6 L295.0,204.3 L297.0,204.0 L299.0,203.6 L301.0,203.2 L303.0,202.8 L305.0,202.2 L307.0,201.6 L309.0,200.9 L311.0,200.1 L313.0,199.3 L315.0,198.4 L317.0,197.5 L319.0,196.6 L321.0,195.7 L323.0,194.8 L325.0,193.9 L327.0,192.9 L329.0,191.9 L331.0,190.9 L333.0,189.8 L335.0,188.7 L337.0,187.7 L339.0,186.7 L341.0,185.7 L343.0,184.9 L345.0,184.0 L347.0,183.2 L349.0,182.5 L351.0,181.8 L353.0,181.1 L355.0,180.3 L357.0,179.7 L359.0,179.0 L361.0,178.5 L363.0,178.0 L365.0,177.6 L367.0,177.3 L369.0,177.0 L371.0,176.8 L373.0,176.6 L375.0,176.4 L377.0,176.2 L379.0,176.1 L381.0,176.1 L383.0,176.1 L385.0,176.2 L387.0,176.2 L389.0,176.4 L391.0,176.5 L393.0,176.6 L395.0,176.8 L397.0,176.9 L399.0,177.0 L401.0,177.2 L403.0,177.3 L405.0,177.4 L407.0,177.5 L409.0,177.7 L411.0,177.8 L413.0,177.8 L415.0,177.9 L417.0,178.0 L419.0,178.0 L421.0,178.1 L423.0,178.2 L425.0,178.2 L427.0,178.3 L429.0,178.3 L431.0,178.4 L433.0,178.4 L435.0,178.5 L437.0,178.5 L439.0,178.6 L441.0,178.6 L443.0,178.7 L445.0,178.7 L447.0,178.7 L449.0,178.8 L451.0,178.8 L453.0,178.9 L455.0,178.9 L457.0,178.9 L459.0,179.0 L461.0,179.0 L463.0,179.1 L465.0,179.1 L467.0,179.1 L469.0,179.2 L471.0,179.2 L473.0,179.2 L475.0,179.3 L477.0,179.3 L479.0,179.4 L481.0,179.4 L483.0,179.5 L485.0,179.5 L487.0,179.6 L489.0,179.7 L491.0,179.8 L493.0,179.9 L495.0,180.0 L497.0,180.1 L499.0,180.2 L501.0,180.3 L503.0,180.4 L505.0,180.5 L507.0,180.6 L509.0,180.8 L511.0,180.9 L513.0,181.0 L515.0,181.2 L517.0,181.4 L519.0,181.5 L521.0,181.7 L523.0,181.9 L525.0,182.0 L527.0,182.2 L529.0,182.4 L531.0,182.5 L533.0,182.7 L535.0,182.8 L537.0,183.0 L539.0,183.1 L541.0,183.2 L543.0,183.4 L545.0,183.5 L547.0,183.6 L549.0,183.8 L551.0,183.9 L553.0,184.1 L555.0,184.2 L557.0,184.4 L559.0,184.6 L561.0,184.8 L563.0,185.0 L565.0,185.2 L567.0,185.4 L569.0,185.6 L571.0,185.8 L573.0,186.0 L575.0,186.2 L577.0,186.4 L579.0,186.6 L581.0,186.8 L583.0,187.0 L585.0,187.1 L587.0,187.3 L589.0,187.5 L591.0,187.7 L593.0,187.8 L595.0,188.0 L597.0,188.1 L599.0,188.2 L601.0,188.4 L603.0,188.5 L605.0,188.6 L607.0,188.7 L609.0,188.8 L611.0,188.9 L613.0,189.0 L615.0,189.1 L617.0,189.2 L619.0,189.4 L621.0,189.5 L623.0,189.6 L625.0,189.7 L627.0,189.7 L629.0,189.8 L631.0,189.9 L633.0,190.0 L635.0,190.1 L637.0,190.2 L639.0,190.3 L641.0,190.4 L643.0,190.6 L645.0,190.7 L647.0,190.8 L649.0,190.9 L651.0,191.1 L653.0,191.2 L655.0,191.3 L657.0,191.5 L659.0,191.6 L661.0,191.8 L663.0,191.9 L665.0,192.1 L667.0,192.3 L669.0,192.5 L671.0,192.7 L673.0,192.9 L675.0,193.2 L677.0,193.4 L679.0,193.7 L681.0,193.9 L683.0,194.2 L685.0,194.5 L687.0,194.7 L689.0,195.0 L691.0,195.2 L693.0,195.5 L695.0,195.7 L697.0,196.0 L699.0,196.3 L701.0,196.5 L703.0,196.8 L705.0,197.1 L707.0,197.3 L709.0,197.6 L711.0,197.8 L713.0,198.1 L715.0,198.3 L717.0,198.5 L719.0,198.8 L721.0,199.0 L723.0,199.2 L725.0,199.4 L727.0,199.6 L729.0,199.8 L731.0,200.0 L733.0,200.1 L735.0,200.3 L737.0,200.5 L739.0,200.7 L741.0,200.9 L743.0,201.0 L745.0,201.2 L747.0,201.4 L749.0,201.5 L751.0,201.7 L753.0,201.8 L755.0,202.0 L757.0,202.1 L759.0,202.3 L761.0,202.4 L763.0,202.6 L765.0,202.7 L767.0,202.9 L769.0,203.0 L771.0,203.2 L773.0,203.3 L775.0,203.4 L777.0,203.6 L779.0,203.7 L781.0,203.8 L783.0,204.0 L785.0,204.1 L786.0,204.2" fill="none" stroke="#FFDCB6" stroke-width="1"/>
<path d="M123.0,254.3 L125.0,253.8 L127.0,253.2 L129.0,252.7 L131.0,252.2 L133.0,251.7 L135.0,251.1 L137.0,250.6 L139.0,250.2 L141.0,249.7 L143.0,249.2 L145.0,248.7 L147.0,248.3 L149.0,247.8 L151.0,247.4 L153.0,247.0 L155.0,246.5 L157.0,246.1 L159.0,245.7 L161.0,245.3 L163.0,244.8 L165.0,244.4 L167.0,244.0 L169.0,243.7 L171.0,243.4 L173.0,243.1 L175.0,242.8 L177.0,242.6 L179.0,242.4 L181.0,242.3 L183.0,242.3 L185.0,242.2 L187.0,242.2 L189.0,242.2 L191.0,242.2 L193.0,242.2 L195.0,242.2 L197.0,242.2 L199.0,242.3 L201.0,242.3 L203.0,242.4 L205.0,242.5 L207.0,242.7 L209.0,243.0 L211.0,243.2 L213.0,243.5 L215.0,243.8 L217.0,244.1 L219.0,244.3 L221.0,244.6 L223.0,244.9 L225.0,245.2 L227.0,245.5 L229.0,245.8 L231.0,246.0 L233.0,246.3 L235.0,246.5 L237.0,246.8 L239.0,247.0 L241.0,247.3 L243.0,247.5 L245.0,247.8 L247.0,248.0 L249.0,248.3 L251.0,248.6 L253.0,248.8 L255.0,249.2 L257.0,249.5 L259.0,249.9 L261.0,250.2 L263.0,250.6 L265.0,251.0 L267.0,251.4 L269.0,251.8 L271.0,252.2 L273.0,252.5 L275.0,252.9 L277.0,253.2 L279.0,253.4 L281.0,253.7 L283.0,253.9 L285.0,254.2 L287.0,254.4 L289.0,254.6 L291.0,254.7 L293.0,254.9 L295.0,255.0 L297.0,255.0 L299.0,255.0 L301.0,254.9 L303.0,254.8 L305.0,254.6 L307.0,254.4 L309.0,254.1 L311.0,253.8 L313.0,253.3 L315.0,252.8 L317.0,252.3 L319.0,251.7 L321.0,251.1 L323.0,250.4 L325.0,249.7 L327.0,249.1 L329.0,248.5 L331.0,248.0 L333.0,247.5 L335.0,246.9 L337.0,246.4 L339.0,245.8 L341.0,245.3 L343.0,244.6 L345.0,244.0 L347.0,243.4 L349.0,242.8 L351.0,242.3 L353.0,241.8 L355.0,241.3 L357.0,240.8 L359.0,240.3 L361.0,239.9 L363.0,239.6 L365.0,239.3 L367.0,239.0 L369.0,238.8 L371.0,238.6 L373.0,238.4 L375.0,238.4 L377.0,238.3 L379.0,238.2 L381.0,238.2 L383.0,238.2 L385.0,238.2 L387.0,238.2 L389.0,238.2 L391.0,238.2 L393.0,238.2 L395.0,238.3 L397.0,238.3 L399.0,238.3 L401.0,238.4 L403.0,238.4 L405.0,238.5 L407.0,238.5 L409.0,238.6 L411.0,238.7 L413.0,238.7 L415.0,238.8 L417.0,238.9 L419.0,239.0 L421.0,239.1 L423.0,239.2 L425.0,239.3 L427.0,239.5 L429.0,239.6 L431.0,239.7 L433.0,239.8 L435.0,239.9 L437.0,239.9 L439.0,240.0 L441.0,240.1 L443.0,240.1 L445.0,240.2 L447.0,240.2 L449.0,240.3 L451.0,240.3 L453.0,240.4 L455.0,240.4 L457.0,240.5 L459.0,240.6 L461.0,240.6 L463.0,240.7 L465.0,240.9 L467.0,241.0 L469.0,241.1 L471.0,241.2 L473.0,241.4 L475.0,241.5 L477.0,241.7 L479.0,241.8 L481.0,242.0 L483.0,242.2 L485.0,242.4 L487.0,242.6 L489.0,242.8 L491.0,243.1 L493.0,243.3 L495.0,243.6 L497.0,243.9 L499.0,244.2 L501.0,244.4 L503.0,244.7 L505.0,245.0 L507.0,245.3 L509.0,245.5 L511.0,245.8 L513.0,246.1 L515.0,246.3 L517.0,246.6 L519.0,246.9 L521.0,247.1 L523.0,247.4 L525.0,247.7 L527.0,247.9 L529.0,248.2 L531.0,248.4 L533.0,248.6 L535.0,248.8 L537.0,249.1 L539.0,249.3 L541.0,249.5 L543.0,249.7 L545.0,249.9 L547.0,250.1 L549.0,250.3 L551.0,250.4 L553.0,250.5 L555.0,250.7 L557.0,250.7 L559.0,250.8 L561.0,250.8 L563.0,250.8 L565.0,250.8 L567.0,250.9 L569.0,250.9 L571.0,250.9 L573.0,251.0 L575.0,251.1 L577.0,251.1 L579.0,251.2 L581.0,251.3 L583.0,251.4 L585.0,251.5 L587.0,251.6 L589.0,251.7 L591.0,251.8 L593.0,251.9 L595.0,251.9 L597.0,252.0 L599.0,252.1 L601.0,252.1 L603.0,252.2 L605.0,252.3 L607.0,252.3 L609.0,252.4 L611.0,252.4 L613.0,252.5 L615.0,252.5 L617.0,252.6 L619.0,252.6 L621.0,252.7 L623.0,252.7 L625.0,252.7 L627.0,252.8 L629.0,252.8 L631.0,252.8 L633.0,252.9 L635.0,252.9 L637.0,253.0 L639.0,253.0 L641.0,253.1 L643.0,253.1 L645.0,253.2 L647.0,253.3 L649.0,253.4 L651.0,253.4 L653.0,253.5 L655.0,253.6 L657.0,253.7 L659.0,253.9 L661.0,254.0 L663.0,254.1 L665.0,254.2 L667.0,254.4 L669.0,254.5 L671.0,254.7 L673.0,254.9 L675.0,255.1 L677.0,255.3 L679.0,255.5 L681.0,255.7 L683.0,255.9 L685.0,256.2 L687.0,256.4 L689.0,256.6 L691.0,256.8 L693.0,257.0 L695.0,257.2 L697.0,257.5 L699.0,257.7 L701.0,257.9 L703.0,258.1 L705.0,258.3 L707.0,258.6 L709.0,258.8 L711.0,259.0 L713.0,259.2 L715.0,259.4 L717.0,259.6 L719.0,259.8 L721.0,260.1 L723.0,260.3 L725.0,260.5 L727.0,260.7 L729.0,260.8 L731.0,260.9 L733.0,261.0 L735.0,261.0 L737.0,261.1 L739.0,261.1 L741.0,261.1 L743.0,261.1 L745.0,261.1 L747.0,261.1 L749.0,261.1 L751.0,261.0 L753.0,261.0 L755.0,261.0 L757.0,261.0 L759.0,261.0 L761.0,261.0 L763.0,261.0 L765.0,261.0 L767.0,261.0 L769.0,261.0 L771.0,261.0 L773.0,261.0 L775.0,261.0 L777.0,261.0 L779.0,261.0 L781.0,261.0 L783.0,261.0 L785.0,261.0 L786.0,261.0 L786.0,423.0 L123.0,423.0 Z" fill="url(#glo)"/>
<path d="M123.0,254.3 L125.0,253.8 L127.0,253.2 L129.0,252.7 L131.0,252.2 L133.0,251.7 L135.0,251.1 L137.0,250.6 L139.0,250.2 L141.0,249.7 L143.0,249.2 L145.0,248.7 L147.0,248.3 L149.0,247.8 L151.0,247.4 L153.0,247.0 L155.0,246.5 L157.0,246.1 L159.0,245.7 L161.0,245.3 L163.0,244.8 L165.0,244.4 L167.0,244.0 L169.0,243.7 L171.0,243.4 L173.0,243.1 L175.0,242.8 L177.0,242.6 L179.0,242.4 L181.0,242.3 L183.0,242.3 L185.0,242.2 L187.0,242.2 L189.0,242.2 L191.0,242.2 L193.0,242.2 L195.0,242.2 L197.0,242.2 L199.0,242.3 L201.0,242.3 L203.0,242.4 L205.0,242.5 L207.0,242.7 L209.0,243.0 L211.0,243.2 L213.0,243.5 L215.0,243.8 L217.0,244.1 L219.0,244.3 L221.0,244.6 L223.0,244.9 L225.0,245.2 L227.0,245.5 L229.0,245.8 L231.0,246.0 L233.0,246.3 L235.0,246.5 L237.0,246.8 L239.0,247.0 L241.0,247.3 L243.0,247.5 L245.0,247.8 L247.0,248.0 L249.0,248.3 L251.0,248.6 L253.0,248.8 L255.0,249.2 L257.0,249.5 L259.0,249.9 L261.0,250.2 L263.0,250.6 L265.0,251.0 L267.0,251.4 L269.0,251.8 L271.0,252.2 L273.0,252.5 L275.0,252.9 L277.0,253.2 L279.0,253.4 L281.0,253.7 L283.0,253.9 L285.0,254.2 L287.0,254.4 L289.0,254.6 L291.0,254.7 L293.0,254.9 L295.0,255.0 L297.0,255.0 L299.0,255.0 L301.0,254.9 L303.0,254.8 L305.0,254.6 L307.0,254.4 L309.0,254.1 L311.0,253.8 L313.0,253.3 L315.0,252.8 L317.0,252.3 L319.0,251.7 L321.0,251.1 L323.0,250.4 L325.0,249.7 L327.0,249.1 L329.0,248.5 L331.0,248.0 L333.0,247.5 L335.0,246.9 L337.0,246.4 L339.0,245.8 L341.0,245.3 L343.0,244.6 L345.0,244.0 L347.0,243.4 L349.0,242.8 L351.0,242.3 L353.0,241.8 L355.0,241.3 L357.0,240.8 L359.0,240.3 L361.0,239.9 L363.0,239.6 L365.0,239.3 L367.0,239.0 L369.0,238.8 L371.0,238.6 L373.0,238.4 L375.0,238.4 L377.0,238.3 L379.0,238.2 L381.0,238.2 L383.0,238.2 L385.0,238.2 L387.0,238.2 L389.0,238.2 L391.0,238.2 L393.0,238.2 L395.0,238.3 L397.0,238.3 L399.0,238.3 L401.0,238.4 L403.0,238.4 L405.0,238.5 L407.0,238.5 L409.0,238.6 L411.0,238.7 L413.0,238.7 L415.0,238.8 L417.0,238.9 L419.0,239.0 L421.0,239.1 L423.0,239.2 L425.0,239.3 L427.0,239.5 L429.0,239.6 L431.0,239.7 L433.0,239.8 L435.0,239.9 L437.0,239.9 L439.0,240.0 L441.0,240.1 L443.0,240.1 L445.0,240.2 L447.0,240.2 L449.0,240.3 L451.0,240.3 L453.0,240.4 L455.0,240.4 L457.0,240.5 L459.0,240.6 L461.0,240.6 L463.0,240.7 L465.0,240.9 L467.0,241.0 L469.0,241.1 L471.0,241.2 L473.0,241.4 L475.0,241.5 L477.0,241.7 L479.0,241.8 L481.0,242.0 L483.0,242.2 L485.0,242.4 L487.0,242.6 L489.0,242.8 L491.0,243.1 L493.0,243.3 L495.0,243.6 L497.0,243.9 L499.0,244.2 L501.0,244.4 L503.0,244.7 L505.0,245.0 L507.0,245.3 L509.0,245.5 L511.0,245.8 L513.0,246.1 L515.0,246.3 L517.0,246.6 L519.0,246.9 L521.0,247.1 L523.0,247.4 L525.0,247.7 L527.0,247.9 L529.0,248.2 L531.0,248.4 L533.0,248.6 L535.0,248.8 L537.0,249.1 L539.0,249.3 L541.0,249.5 L543.0,249.7 L545.0,249.9 L547.0,250.1 L549.0,250.3 L551.0,250.4 L553.0,250.5 L555.0,250.7 L557.0,250.7 L559.0,250.8 L561.0,250.8 L563.0,250.8 L565.0,250.8 L567.0,250.9 L569.0,250.9 L571.0,250.9 L573.0,251.0 L575.0,251.1 L577.0,251.1 L579.0,251.2 L581.0,251.3 L583.0,251.4 L585.0,251.5 L587.0,251.6 L589.0,251.7 L591.0,251.8 L593.0,251.9 L595.0,251.9 L597.0,252.0 L599.0,252.1 L601.0,252.1 L603.0,252.2 L605.0,252.3 L607.0,252.3 L609.0,252.4 L611.0,252.4 L613.0,252.5 L615.0,252.5 L617.0,252.6 L619.0,252.6 L621.0,252.7 L623.0,252.7 L625.0,252.7 L627.0,252.8 L629.0,252.8 L631.0,252.8 L633.0,252.9 L635.0,252.9 L637.0,253.0 L639.0,253.0 L641.0,253.1 L643.0,253.1 L645.0,253.2 L647.0,253.3 L649.0,253.4 L651.0,253.4 L653.0,253.5 L655.0,253.6 L657.0,253.7 L659.0,253.9 L661.0,254.0 L663.0,254.1 L665.0,254.2 L667.0,254.4 L669.0,254.5 L671.0,254.7 L673.0,254.9 L675.0,255.1 L677.0,255.3 L679.0,255.5 L681.0,255.7 L683.0,255.9 L685.0,256.2 L687.0,256.4 L689.0,256.6 L691.0,256.8 L693.0,257.0 L695.0,257.2 L697.0,257.5 L699.0,257.7 L701.0,257.9 L703.0,258.1 L705.0,258.3 L707.0,258.6 L709.0,258.8 L711.0,259.0 L713.0,259.2 L715.0,259.4 L717.0,259.6 L719.0,259.8 L721.0,260.1 L723.0,260.3 L725.0,260.5 L727.0,260.7 L729.0,260.8 L731.0,260.9 L733.0,261.0 L735.0,261.0 L737.0,261.1 L739.0,261.1 L741.0,261.1 L743.0,261.1 L745.0,261.1 L747.0,261.1 L749.0,261.1 L751.0,261.0 L753.0,261.0 L755.0,261.0 L757.0,261.0 L759.0,261.0 L761.0,261.0 L763.0,261.0 L765.0,261.0 L767.0,261.0 L769.0,261.0 L771.0,261.0 L773.0,261.0 L775.0,261.0 L777.0,261.0 L779.0,261.0 L781.0,261.0 L783.0,261.0 L785.0,261.0 L786.0,261.0" fill="none" stroke="#DEB887" stroke-width="1"/>
<path d="M123.0,323.2 L125.0,323.1 L127.0,323.0 L129.0,322.9 L131.0,322.9 L133.0,322.8 L135.0,322.7 L137.0,322.6 L139.0,322.5 L141.0,322.5 L143.0,322.4 L145.0,322.3 L147.0,322.2 L149.0,322.1 L151.0,322.0 L153.0,321.9 L155.0,321.8 L157.0,321.7 L159.0,321.7 L161.0,321.6 L163.0,321.5 L165.0,321.4 L167.0,321.3 L169.0,321.2 L171.0,321.0 L173.0,320.9 L175.0,320.8 L177.0,320.7 L179.0,320.5 L181.0,320.4 L183.0,320.2 L185.0,320.0 L187.0,319.8 L189.0,319.6 L191.0,319.4 L193.0,319.1 L195.0,318.9 L197.0,318.6 L199.0,318.4 L201.0,318.1 L203.0,317.8 L205.0,317.5 L207.0,317.3 L209.0,316.9 L211.0,316.6 L213.0,316.3 L215.0,315.9 L217.0,315.6 L219.0,315.2 L221.0,314.9 L223.0,314.6 L225.0,314.3 L227.0,314.0 L229.0,313.8 L231.0,313.5 L233.0,313.4 L235.0,313.3 L237.0,313.3 L239.0,313.2 L241.0,313.2 L243.0,313.2 L245.0,313.2 L247.0,313.2 L249.0,313.2 L251.0,313.2 L253.0,313.3 L255.0,313.3 L257.0,313.5 L259.0,313.7 L261.0,313.9 L263.0,314.2 L265.0,314.5 L267.0,314.8 L269.0,315.1 L271.0,315.4 L273.0,315.7 L275.0,316.0 L277.0,316.3 L279.0,316.7 L281.0,317.0 L283.0,317.4 L285.0,317.7 L287.0,317.9 L289.0,318.1 L291.0,318.1 L293.0,318.2 L295.0,318.2 L297.0,318.2 L299.0,318.2 L301.0,318.2 L303.0,318.3 L305.0,318.3 L307.0,318.3 L309.0,318.3 L311.0,318.2 L313.0,318.2 L315.0,318.2 L317.0,318.2 L319.0,318.2 L321.0,318.2 L323.0,318.1 L325.0,318.1 L327.0,318.1 L329.0,318.0 L331.0,317.8 L333.0,317.7 L335.0,317.4 L337.0,317.2 L339.0,317.0 L341.0,316.8 L343.0,316.6 L345.0,316.4 L347.0,316.2 L349.0,315.9 L351.0,315.7 L353.0,315.3 L355.0,314.9 L357.0,314.5 L359.0,314.0 L361.0,313.5 L363.0,312.9 L365.0,312.3 L367.0,311.5 L369.0,310.7 L371.0,309.7 L373.0,308.8 L375.0,307.8 L377.0,306.8 L379.0,305.8 L381.0,304.7 L383.0,303.6 L385.0,302.4 L387.0,301.2 L389.0,300.0 L391.0,298.6 L393.0,297.2 L395.0,295.7 L397.0,294.3 L399.0,292.9 L401.0,291.5 L403.0,290.2 L405.0,288.9 L407.0,287.7 L409.0,286.5 L411.0,285.5 L413.0,284.6 L415.0,283.7 L417.0,282.9 L419.0,282.2 L421.0,281.6 L423.0,281.1 L425.0,280.7 L427.0,280.3 L429.0,280.0 L431.0,279.8 L433.0,279.6 L435.0,279.5 L437.0,279.5 L439.0,279.5 L441.0,279.6 L443.0,279.7 L445.0,279.9 L447.0,280.1 L449.0,280.3 L451.0,280.7 L453.0,281.1 L455.0,281.5 L457.0,282.0 L459.0,282.4 L461.0,282.8 L463.0,283.1 L465.0,283.4 L467.0,283.7 L469.0,284.0 L471.0,284.3 L473.0,284.6 L475.0,284.9 L477.0,285.2 L479.0,285.5 L481.0,285.8 L483.0,286.1 L485.0,286.3 L487.0,286.6 L489.0,286.9 L491.0,287.1 L493.0,287.4 L495.0,287.7 L497.0,287.9 L499.0,288.2 L501.0,288.4 L503.0,288.7 L505.0,288.9 L507.0,289.2 L509.0,289.4 L511.0,289.7 L513.0,290.0 L515.0,290.2 L517.0,290.5 L519.0,290.8 L521.0,291.0 L523.0,291.3 L525.0,291.5 L527.0,291.8 L529.0,292.0 L531.0,292.1 L533.0,292.3 L535.0,292.4 L537.0,292.5 L539.0,292.7 L541.0,292.8 L543.0,292.9 L545.0,293.0 L547.0,293.0 L549.0,293.1 L551.0,293.1 L553.0,293.2 L555.0,293.2 L557.0,293.2 L559.0,293.1 L561.0,293.0 L563.0,292.8 L565.0,292.6 L567.0,292.4 L569.0,292.3 L571.0,292.1 L573.0,292.0 L575.0,291.9 L577.0,291.8 L579.0,291.6 L581.0,291.5 L583.0,291.4 L585.0,291.3 L587.0,291.2 L589.0,291.1 L591.0,291.0 L593.0,291.0 L595.0,291.0 L597.0,291.0 L599.0,291.1 L601.0,291.3 L603.0,291.4 L605.0,291.6 L607.0,291.8 L609.0,292.0 L611.0,292.3 L613.0,292.6 L615.0,292.9 L617.0,293.2 L619.0,293.6 L621.0,293.9 L623.0,294.2 L625.0,294.6 L627.0,294.9 L629.0,295.3 L631.0,295.7 L633.0,296.0 L635.0,296.4 L637.0,296.7 L639.0,297.0 L641.0,297.3 L643.0,297.6 L645.0,297.9 L647.0,298.2 L649.0,298.5 L651.0,298.8 L653.0,299.1 L655.0,299.3 L657.0,299.6 L659.0,299.8 L661.0,300.1 L663.0,300.3 L665.0,300.5 L667.0,300.7 L669.0,300.9 L671.0,301.1 L673.0,301.3 L675.0,301.4 L677.0,301.6 L679.0,301.7 L681.0,301.9 L683.0,302.0 L685.0,302.2 L687.0,302.3 L689.0,302.4 L691.0,302.6 L693.0,302.7 L695.0,302.8 L697.0,302.9 L699.0,303.0 L701.0,303.1 L703.0,303.2 L705.0,303.3 L707.0,303.4 L709.0,303.5 L711.0,303.6 L713.0,303.7 L715.0,303.7 L717.0,303.8 L719.0,303.9 L721.0,304.0 L723.0,304.1 L725.0,304.2 L727.0,304.2 L729.0,304.3 L731.0,304.4 L733.0,304.5 L735.0,304.6 L737.0,304.7 L739.0,304.7 L741.0,304.8 L743.0,304.9 L745.0,305.0 L747.0,305.1 L749.0,305.2 L751.0,305.3 L753.0,305.4 L755.0,305.5 L757.0,305.6 L759.0,305.7 L761.0,305.8 L763.0,305.9 L765.0,306.1 L767.0,306.1 L769.0,306.2 L771.0,306.3 L773.0,306.5 L775.0,306.6 L777.0,306.7 L779.0,306.8 L781.0,306.9 L783.0,307.0 L785.0,307.1 L786.0,307.1 L786.0,423.0 L123.0,423.0 Z" fill="url(#gvl)"/>
<path d="M123.0,323.2 L125.0,323.1 L127.0,323.0 L129.0,322.9 L131.0,322.9 L133.0,322.8 L135.0,322.7 L137.0,322.6 L139.0,322.5 L141.0,322.5 L143.0,322.4 L145.0,322.3 L147.0,322.2 L149.0,322.1 L151.0,322.0 L153.0,321.9 L155.0,321.8 L157.0,321.7 L159.0,321.7 L161.0,321.6 L163.0,321.5 L165.0,321.4 L167.0,321.3 L169.0,321.2 L171.0,321.0 L173.0,320.9 L175.0,320.8 L177.0,320.7 L179.0,320.5 L181.0,320.4 L183.0,320.2 L185.0,320.0 L187.0,319.8 L189.0,319.6 L191.0,319.4 L193.0,319.1 L195.0,318.9 L197.0,318.6 L199.0,318.4 L201.0,318.1 L203.0,317.8 L205.0,317.5 L207.0,317.3 L209.0,316.9 L211.0,316.6 L213.0,316.3 L215.0,315.9 L217.0,315.6 L219.0,315.2 L221.0,314.9 L223.0,314.6 L225.0,314.3 L227.0,314.0 L229.0,313.8 L231.0,313.5 L233.0,313.4 L235.0,313.3 L237.0,313.3 L239.0,313.2 L241.0,313.2 L243.0,313.2 L245.0,313.2 L247.0,313.2 L249.0,313.2 L251.0,313.2 L253.0,313.3 L255.0,313.3 L257.0,313.5 L259.0,313.7 L261.0,313.9 L263.0,314.2 L265.0,314.5 L267.0,314.8 L269.0,315.1 L271.0,315.4 L273.0,315.7 L275.0,316.0 L277.0,316.3 L279.0,316.7 L281.0,317.0 L283.0,317.4 L285.0,317.7 L287.0,317.9 L289.0,318.1 L291.0,318.1 L293.0,318.2 L295.0,318.2 L297.0,318.2 L299.0,318.2 L301.0,318.2 L303.0,318.3 L305.0,318.3 L307.0,318.3 L309.0,318.3 L311.0,318.2 L313.0,318.2 L315.0,318.2 L317.0,318.2 L319.0,318.2 L321.0,318.2 L323.0,318.1 L325.0,318.1 L327.0,318.1 L329.0,318.0 L331.0,317.8 L333.0,317.7 L335.0,317.4 L337.0,317.2 L339.0,317.0 L341.0,316.8 L343.0,316.6 L345.0,316.4 L347.0,316.2 L349.0,315.9 L351.0,315.7 L353.0,315.3 L355.0,314.9 L357.0,314.5 L359.0,314.0 L361.0,313.5 L363.0,312.9 L365.0,312.3 L367.0,311.5 L369.0,310.7 L371.0,309.7 L373.0,308.8 L375.0,307.8 L377.0,306.8 L379.0,305.8 L381.0,304.7 L383.0,303.6 L385.0,302.4 L387.0,301.2 L389.0,300.0 L391.0,298.6 L393.0,297.2 L395.0,295.7 L397.0,294.3 L399.0,292.9 L401.0,291.5 L403.0,290.2 L405.0,288.9 L407.0,287.7 L409.0,286.5 L411.0,285.5 L413.0,284.6 L415.0,283.7 L417.0,282.9 L419.0,282.2 L421.0,281.6 L423.0,281.1 L425.0,280.7 L427.0,280.3 L429.0,280.0 L431.0,279.8 L433.0,279.6 L435.0,279.5 L437.0,279.5 L439.0,279.5 L441.0,279.6 L443.0,279.7 L445.0,279.9 L447.0,280.1 L449.0,280.3 L451.0,280.7 L453.0,281.1 L455.0,281.5 L457.0,282.0 L459.0,282.4 L461.0,282.8 L463.0,283.1 L465.0,283.4 L467.0,283.7 L469.0,284.0 L471.0,284.3 L473.0,284.6 L475.0,284.9 L477.0,285.2 L479.0,285.5 L481.0,285.8 L483.0,286.1 L485.0,286.3 L487.0,286.6 L489.0,286.9 L491.0,287.1 L493.0,287.4 L495.0,287.7 L497.0,287.9 L499.0,288.2 L501.0,288.4 L503.0,288.7 L505.0,288.9 L507.0,289.2 L509.0,289.4 L511.0,289.7 L513.0,290.0 L515.0,290.2 L517.0,290.5 L519.0,290.8 L521.0,291.0 L523.0,291.3 L525.0,291.5 L527.0,291.8 L529.0,292.0 L531.0,292.1 L533.0,292.3 L535.0,292.4 L537.0,292.5 L539.0,292.7 L541.0,292.8 L543.0,292.9 L545.0,293.0 L547.0,293.0 L549.0,293.1 L551.0,293.1 L553.0,293.2 L555.0,293.2 L557.0,293.2 L559.0,293.1 L561.0,293.0 L563.0,292.8 L565.0,292.6 L567.0,292.4 L569.0,292.3 L571.0,292.1 L573.0,292.0 L575.0,291.9 L577.0,291.8 L579.0,291.6 L581.0,291.5 L583.0,291.4 L585.0,291.3 L587.0,291.2 L589.0,291.1 L591.0,291.0 L593.0,291.0 L595.0,291.0 L597.0,291.0 L599.0,291.1 L601.0,291.3 L603.0,291.4 L605.0,291.6 L607.0,291.8 L609.0,292.0 L611.0,292.3 L613.0,292.6 L615.0,292.9 L617.0,293.2 L619.0,293.6 L621.0,293.9 L623.0,294.2 L625.0,294.6 L627.0,294.9 L629.0,295.3 L631.0,295.7 L633.0,296.0 L635.0,296.4 L637.0,296.7 L639.0,297.0 L641.0,297.3 L643.0,297.6 L645.0,297.9 L647.0,298.2 L649.0,298.5 L651.0,298.8 L653.0,299.1 L655.0,299.3 L657.0,299.6 L659.0,299.8 L661.0,300.1 L663.0,300.3 L665.0,300.5 L667.0,300.7 L669.0,300.9 L671.0,301.1 L673.0,301.3 L675.0,301.4 L677.0,301.6 L679.0,301.7 L681.0,301.9 L683.0,302.0 L685.0,302.2 L687.0,302.3 L689.0,302.4 L691.0,302.6 L693.0,302.7 L695.0,302.8 L697.0,302.9 L699.0,303.0 L701.0,303.1 L703.0,303.2 L705.0,303.3 L707.0,303.4 L709.0,303.5 L711.0,303.6 L713.0,303.7 L715.0,303.7 L717.0,303.8 L719.0,303.9 L721.0,304.0 L723.0,304.1 L725.0,304.2 L727.0,304.2 L729.0,304.3 L731.0,304.4 L733.0,304.5 L735.0,304.6 L737.0,304.7 L739.0,304.7 L741.0,304.8 L743.0,304.9 L745.0,305.0 L747.0,305.1 L749.0,305.2 L751.0,305.3 L753.0,305.4 L755.0,305.5 L757.0,305.6 L759.0,305.7 L761.0,305.8 L763.0,305.9 L765.0,306.1 L767.0,306.1 L769.0,306.2 L771.0,306.3 L773.0,306.5 L775.0,306.6 L777.0,306.7 L779.0,306.8 L781.0,306.9 L783.0,307.0 L785.0,307.1 L786.0,307.1" fill="none" stroke="#FFA07A" stroke-width="1"/>
<path d="M123.3,368.3 L125.3,368.1 L127.3,367.8 L129.3,367.6 L131.3,367.3 L133.3,367.1 L135.3,366.9 L137.3,366.6 L139.3,366.4 L141.3,366.2 L143.3,366.0 L145.3,365.8 L147.3,365.6 L149.3,365.4 L151.3,365.2 L153.3,365.1 L155.3,364.9 L157.3,364.7 L159.3,364.5 L161.3,364.4 L163.3,364.2 L165.3,364.0 L167.3,363.9 L169.3,363.7 L171.3,363.6 L173.3,363.5 L175.3,363.4 L177.3,363.3 L179.3,363.2 L181.3,363.1 L183.3,363.0 L185.3,362.9 L187.3,362.8 L189.3,362.8 L191.3,362.7 L193.3,362.6 L195.3,362.6 L197.3,362.5 L199.3,362.5 L201.3,362.4 L203.3,362.4 L205.3,362.4 L207.3,362.3 L209.3,362.3 L211.3,362.3 L213.3,362.3 L215.3,362.3 L217.3,362.2 L219.3,362.2 L221.3,362.2 L223.3,362.2 L225.3,362.2 L227.3,362.2 L229.3,362.2 L231.3,362.2 L233.3,362.2 L235.3,362.2 L237.3,362.2 L239.3,362.2 L241.3,362.3 L243.3,362.3 L245.3,362.4 L247.3,362.5 L249.3,362.7 L251.3,362.9 L253.3,363.2 L255.3,363.5 L257.3,363.7 L259.3,364.0 L261.3,364.3 L263.3,364.5 L265.3,364.7 L267.3,364.9 L269.3,365.0 L271.3,365.0 L273.3,365.1 L275.3,365.1 L277.3,365.2 L279.3,365.2 L281.3,365.2 L283.3,365.3 L285.3,365.3 L287.3,365.3 L289.3,365.3 L291.3,365.3 L293.3,365.3 L295.3,365.3 L297.3,365.2 L299.3,365.2 L301.3,365.1 L303.3,365.0 L305.3,364.8 L307.3,364.5 L309.3,364.2 L311.3,363.7 L313.3,363.2 L315.3,362.6 L317.3,362.1 L319.3,361.5 L321.3,360.8 L323.3,360.2 L325.3,359.7 L327.3,359.1 L329.3,358.6 L331.3,358.0 L333.3,357.4 L335.3,356.8 L337.3,356.1 L339.3,355.5 L341.3,354.9 L343.3,354.3 L345.3,353.8 L347.3,353.3 L349.3,352.8 L351.3,352.5 L353.3,352.1 L355.3,351.7 L357.3,351.4 L359.3,351.1 L361.3,350.9 L363.3,350.8 L365.3,350.7 L367.3,350.7 L369.3,350.9 L371.3,351.1 L373.3,351.4 L375.3,351.8 L377.3,352.2 L379.3,352.6 L381.3,353.1 L383.3,353.6 L385.3,354.0 L387.3,354.4 L389.3,354.8 L391.3,355.3 L393.3,355.7 L395.3,356.2 L397.3,356.6 L399.3,357.1 L401.3,357.5 L403.3,358.0 L405.3,358.4 L407.3,358.8 L409.3,359.2 L411.3,359.5 L413.3,359.9 L415.3,360.2 L417.3,360.6 L419.3,360.9 L421.3,361.1 L423.3,361.4 L425.3,361.6 L427.3,361.7 L429.3,361.9 L431.3,362.0 L433.3,362.1 L435.3,362.2 L437.3,362.3 L439.3,362.3 L441.3,362.4 L443.3,362.4 L445.3,362.5 L447.3,362.5 L449.3,362.5 L451.3,362.5 L453.3,362.5 L455.3,362.5 L457.3,362.4 L459.3,362.4 L461.3,362.4 L463.3,362.3 L465.3,362.2 L467.3,362.2 L469.3,362.1 L471.3,362.1 L473.3,362.0 L475.3,361.9 L477.3,361.9 L479.3,361.8 L481.3,361.7 L483.3,361.7 L485.3,361.6 L487.3,361.6 L489.3,361.5 L491.3,361.5 L493.3,361.4 L495.3,361.3 L497.3,361.3 L499.3,361.2 L501.3,361.1 L503.3,361.1 L505.3,361.0 L507.3,360.9 L509.3,360.9 L511.3,360.8 L513.3,360.8 L515.3,360.7 L517.3,360.7 L519.3,360.7 L521.3,360.6 L523.3,360.6 L525.3,360.5 L527.3,360.5 L529.3,360.5 L531.3,360.4 L533.3,360.4 L535.3,360.4 L537.3,360.4 L539.3,360.4 L541.3,360.3 L543.3,360.3 L545.3,360.3 L547.3,360.3 L549.3,360.3 L551.3,360.3 L553.3,360.3 L555.3,360.3 L557.3,360.3 L559.3,360.4 L561.3,360.4 L563.3,360.4 L565.3,360.4 L567.3,360.5 L569.3,360.5 L571.3,360.6 L573.3,360.6 L575.3,360.7 L577.3,360.7 L579.3,360.8 L581.3,360.8 L583.3,360.9 L585.3,361.0 L587.3,361.1 L589.3,361.2 L591.3,361.3 L593.3,361.4 L595.3,361.5 L597.3,361.6 L599.3,361.7 L601.3,361.8 L603.3,361.9 L605.3,361.9 L607.3,362.0 L609.3,362.1 L611.3,362.2 L613.3,362.3 L615.3,362.4 L617.3,362.5 L619.3,362.6 L621.3,362.7 L623.3,362.8 L625.3,362.9 L627.3,363.0 L629.3,363.1 L631.3,363.2 L633.3,363.3 L635.3,363.4 L637.3,363.5 L639.3,363.6 L641.3,363.7 L643.3,363.7 L645.3,363.8 L647.3,363.9 L649.3,364.0 L651.3,364.1 L653.3,364.2 L655.3,364.2 L657.3,364.3 L659.3,364.4 L661.3,364.5 L663.3,364.6 L665.3,364.6 L667.3,364.7 L669.3,364.8 L671.3,364.9 L673.3,365.0 L675.3,365.0 L677.3,365.1 L679.3,365.2 L681.3,365.3 L683.3,365.4 L685.3,365.5 L687.3,365.5 L689.3,365.6 L691.3,365.7 L693.3,365.8 L695.3,365.8 L697.3,365.9 L699.3,366.0 L701.3,366.0 L703.3,366.1 L705.3,366.2 L707.3,366.2 L709.3,366.3 L711.3,366.4 L713.3,366.4 L715.3,366.5 L717.3,366.5 L719.3,366.6 L721.3,366.6 L723.3,366.7 L725.3,366.8 L727.3,366.8 L729.3,366.9 L731.3,366.9 L733.3,367.0 L735.3,367.1 L737.3,367.1 L739.3,367.2 L741.3,367.3 L743.3,367.4 L745.3,367.4 L747.3,367.5 L749.3,367.6 L751.3,367.7 L753.3,367.7 L755.3,367.8 L757.3,367.9 L759.3,368.0 L761.3,368.1 L763.3,368.2 L765.3,368.2 L767.3,368.3 L769.3,368.4 L771.3,368.5 L773.3,368.6 L775.3,368.7 L777.3,368.8 L779.3,369.0 L781.3,369.1 L783.3,369.2 L785.3,369.3 L785.5,369.3" fill="none" stroke="#FFFF00" stroke-width="2" stroke-dasharray="6 2 2 2 2 2"/>
<path d="M123.0,106.3 L125.0,106.1 L127.0,105.9 L129.0,105.7 L131.0,105.4 L133.0,105.2 L135.0,105.0 L137.0,104.7 L139.0,104.5 L141.0,104.2 L143.0,104.0 L145.0,103.7 L147.0,103.4 L149.0,103.2 L151.0,102.9 L153.0,102.7 L155.0,102.5 L157.0,102.3 L159.0,102.1 L161.0,101.9 L163.0,101.8 L165.0,101.6 L167.0,101.5 L169.0,101.3 L171.0,101.2 L173.0,101.1 L175.0,101.0 L177.0,100.9 L179.0,100.8 L181.0,100.8 L183.0,100.8 L185.0,100.8 L187.0,100.8 L189.0,100.8 L191.0,100.9 L193.0,100.9 L195.0,101.0 L197.0,101.1 L199.0,101.1 L201.0,101.2 L203.0,101.3 L205.0,101.4 L207.0,101.5 L209.0,101.6 L211.0,101.7 L213.0,101.8 L215.0,102.0 L217.0,102.2 L219.0,102.5 L221.0,102.7 L223.0,102.9 L225.0,103.1 L227.0,103.3 L229.0,103.4 L231.0,103.4 L233.0,103.4 L235.0,103.5 L237.0,103.5 L239.0,103.5 L241.0,103.5 L243.0,103.5 L245.0,103.5 L247.0,103.5 L249.0,103.5 L251.0,103.5 L253.0,103.5 L255.0,103.5 L257.0,103.4 L259.0,103.4 L261.0,103.3 L263.0,103.2 L265.0,103.0 L267.0,102.7 L269.0,102.5 L271.0,102.2 L273.0,102.0 L275.0,101.8 L277.0,101.7 L279.0,101.7 L281.0,101.6 L283.0,101.6 L285.0,101.6 L287.0,101.6 L289.0,101.5 L291.0,101.5 L293.0,101.5 L295.0,101.5 L297.0,101.5 L299.0,101.5 L301.0,101.4 L303.0,101.4 L305.0,101.4 L307.0,101.4 L309.0,101.4 L311.0,101.4 L313.0,101.4 L315.0,101.4 L317.0,101.4 L319.0,101.5 L321.0,101.5 L323.0,101.5 L325.0,101.5 L327.0,101.5 L329.0,101.6 L331.0,101.8 L333.0,102.0 L335.0,102.2 L337.0,102.4 L339.0,102.6 L341.0,102.8 L343.0,102.9 L345.0,103.0 L347.0,103.1 L349.0,103.2 L351.0,103.3 L353.0,103.4 L355.0,103.5 L357.0,103.6 L359.0,103.6 L361.0,103.7 L363.0,103.8 L365.0,104.0 L367.0,104.1 L369.0,104.2 L371.0,104.3 L373.0,104.4 L375.0,104.6 L377.0,104.7 L379.0,104.8 L381.0,104.9 L383.0,105.1 L385.0,105.2 L387.0,105.3 L389.0,105.3 L391.0,105.4 L393.0,105.5 L395.0,105.5 L397.0,105.6 L399.0,105.6 L401.0,105.7 L403.0,105.7 L405.0,105.8 L407.0,105.8 L409.0,105.9 L411.0,106.0 L413.0,106.0 L415.0,106.1 L417.0,106.2 L419.0,106.3 L421.0,106.4 L423.0,106.5 L425.0,106.6 L427.0,106.7 L429.0,106.8 L431.0,106.9 L433.0,106.9 L435.0,107.0 L437.0,107.0 L439.0,107.1 L441.0,107.1 L443.0,107.1 L445.0,107.1 L447.0,107.1 L449.0,107.2 L451.0,107.2 L453.0,107.2 L455.0,107.2 L457.0,107.2 L459.0,107.2 L461.0,107.2 L463.0,107.2 L465.0,107.2 L467.0,107.2 L469.0,107.2 L471.0,107.2 L473.0,107.2 L475.0,107.2 L477.0,107.2 L479.0,107.2 L481.0,107.2 L483.0,107.2 L485.0,107.2 L487.0,107.2 L489.0,107.2 L491.0,107.2 L493.0,107.2 L495.0,107.2 L497.0,107.2 L499.0,107.2 L501.0,107.2 L503.0,107.2 L505.0,107.2 L507.0,107.2 L509.0,107.2 L511.0,107.2 L513.0,107.2 L515.0,107.2 L517.0,107.2 L519.0,107.2 L521.0,107.2 L523.0,107.2 L525.0,107.2 L527.0,107.2 L529.0,107.2 L531.0,107.2 L533.0,107.2 L535.0,107.2 L537.0,107.2 L539.0,107.2 L541.0,107.2 L543.0,107.2 L545.0,107.2 L547.0,107.2 L549.0,107.2 L551.0,107.2 L553.0,107.2 L555.0,107.2 L557.0,107.2 L559.0,107.2 L561.0,107.2 L563.0,107.2 L565.0,107.2 L567.0,107.2 L569.0,107.2 L571.0,107.2 L573.0,107.2 L575.0,107.2 L577.0,107.2 L579.0,107.2 L581.0,107.2 L583.0,107.2 L585.0,107.2 L587.0,107.2 L589.0,107.2 L591.0,107.2 L593.0,107.2 L595.0,107.2 L597.0,107.2 L599.0,107.2 L601.0,107.2 L603.0,107.2 L605.0,107.2 L607.0,107.2 L609.0,107.2 L611.0,107.2 L613.0,107.2 L615.0,107.2 L617.0,107.2 L619.0,107.2 L621.0,107.2 L623.0,107.2 L625.0,107.2 L627.0,107.2 L629.0,107.2 L631.0,107.2 L633.0,107.2 L635.0,107.2 L637.0,107.2 L639.0,107.2 L641.0,107.2 L643.0,107.2 L645.0,107.2 L647.0,107.2 L649.0,107.2 L651.0,107.2 L653.0,107.2 L655.0,107.2 L657.0,107.2 L659.0,107.2 L661.0,107.2 L663.0,107.2 L665.0,107.2 L667.0,107.2 L669.0,107.2 L671.0,107.2 L673.0,107.2 L675.0,107.2 L677.0,107.2 L679.0,107.2 L681.0,107.2 L683.0,107.2 L685.0,107.2 L687.0,107.2 L689.0,107.2 L691.0,107.2 L693.0,107.2 L695.0,107.2 L697.0,107.2 L699.0,107.2 L701.0,107.2 L703.0,107.2 L705.0,107.2 L707.0,107.2 L709.0,107.2 L711.0,107.2 L713.0,107.2 L715.0,107.2 L717.0,107.2 L719.0,107.2 L721.0,107.2 L723.0,107.2 L725.0,107.2 L727.0,107.2 L729.0,107.2 L731.0,107.2 L733.0,107.2 L735.0,107.2 L737.0,107.2 L739.0,107.2 L741.0,107.2 L743.0,107.2 L745.0,107.2 L747.0,107.2 L749.0,107.2 L751.0,107.2 L753.0,107.2 L755.0,107.2 L757.0,107.2 L759.0,107.2 L761.0,107.2 L763.0,107.2 L765.0,107.2 L767.0,107.2 L769.0,107.2 L771.0,107.2 L773.0,107.2 L775.0,107.2 L777.0,107.2 L779.0,107.2 L781.0,107.2 L783.0,107.2 L785.0,107.2 L786.0,107.2" fill="none" stroke="#0000FF" stroke-width="1" stroke-dasharray="3 1 1 1 1 1"/>
<path d="M99.2,127.5 L107.0,127.6 L108.6,128.4 L136.4,128.5 L140.0,129.5 L153.2,129.8 L166.4,131.4 L184.4,131.5 L194.0,128.7 L222.8,126.9 L252.8,114.2" fill="none" stroke="#000" stroke-width="1"/>
<path d="M99.2,146.4 L104.8,147.5 L113.2,148.5 L121.6,149.3 L128.6,149.3 L134.2,147.1 L140.0,144.6 L152.4,144.4 L155.0,145.1 L172.4,145.4 L218.0,144.2 L225.0,145.3 L239.6,146.1 L254.0,146.1 L260.0,143.0 L266.0,140.6 L278.0,141.1 L285.0,137.5 L292.4,133.4 L299.0,130.5 L306.8,128.6 L330.8,128.1 L340.0,128.1 L347.0,126.2 L356.8,125.5 L366.4,126.2 L372.4,128.1 L377.2,128.1 L383.2,122.6 L388.0,114.9 L394.0,111.3 L412.0,111.8 L424.0,111.3 L431.0,113.0 L493.6,112.5 L498.4,111.3 L505.6,111.8 L508.0,112.5 L541.6,112.5 L546.4,113.5 L606.0,113.5 L608.4,114.7 L634.8,114.7 L637.5,115.9 L666.0,116.6 L668.0,117.8 L694.8,118.5 L718.8,120.9 L750.0,123.8 L774.0,126.2 L786.0,127.9 L790.0,128.2 L807.6,128.2" fill="none" stroke="#CD7D2D" stroke-width="1" stroke-dasharray="3 1"/>
<g fill="#000" shape-rendering="crispEdges"><rect x="86" y="51" width="730" height="1"/><rect x="86" y="423" width="730" height="1"/><rect x="92" y="51" width="1" height="379"/><rect x="815" y="51" width="1" height="379"/><rect x="152" y="417" width="1" height="13"/><rect x="152" y="51" width="1" height="7"/><rect x="213" y="417" width="1" height="13"/><rect x="213" y="51" width="1" height="7"/><rect x="273" y="417" width="1" height="13"/><rect x="273" y="51" width="1" height="7"/><rect x="333" y="417" width="1" height="13"/><rect x="333" y="51" width="1" height="7"/><rect x="393" y="417" width="1" height="13"/><rect x="393" y="51" width="1" height="7"/><rect x="454" y="417" width="1" height="13"/><rect x="454" y="51" width="1" height="7"/><rect x="514" y="417" width="1" height="13"/><rect x="514" y="51" width="1" height="7"/><rect x="574" y="417" width="1" height="13"/><rect x="574" y="51" width="1" height="7"/><rect x="634" y="417" width="1" height="13"/><rect x="634" y="51" width="1" height="7"/><rect x="695" y="417" width="1" height="13"/><rect x="695" y="51" width="1" height="7"/><rect x="755" y="417" width="1" height="13"/><rect x="755" y="51" width="1" height="7"/><rect x="89" y="407" width="7" height="1"/><rect x="812" y="407" width="4" height="1"/><rect x="89" y="392" width="7" height="1"/><rect x="812" y="392" width="4" height="1"/><rect x="89" y="376" width="7" height="1"/><rect x="812" y="376" width="4" height="1"/><rect x="86" y="361" width="14" height="1"/><rect x="809" y="361" width="7" height="1"/><rect x="89" y="345" width="7" height="1"/><rect x="812" y="345" width="4" height="1"/><rect x="89" y="330" width="7" height="1"/><rect x="812" y="330" width="4" height="1"/><rect x="89" y="314" width="7" height="1"/><rect x="812" y="314" width="4" height="1"/><rect x="86" y="299" width="14" height="1"/><rect x="809" y="299" width="7" height="1"/><rect x="89" y="283" width="7" height="1"/><rect x="812" y="283" width="4" height="1"/><rect x="89" y="268" width="7" height="1"/><rect x="812" y="268" width="4" height="1"/><rect x="89" y="252" width="7" height="1"/><rect x="812" y="252" width="4" height="1"/><rect x="86" y="237" width="14" height="1"/><rect x="809" y="237" width="7" height="1"/><rect x="89" y="221" width="7" height="1"/><rect x="812" y="221" width="4" height="1"/><rect x="89" y="206" width="7" height="1"/><rect x="812" y="206" width="4" height="1"/><rect x="89" y="190" width="7" height="1"/><rect x="812" y="190" width="4" height="1"/><rect x="86" y="175" width="14" height="1"/><rect x="809" y="175" width="7" height="1"/><rect x="89" y="159" width="7" height="1"/><rect x="812" y="159" width="4" height="1"/><rect x="89" y="144" width="7" height="1"/><rect x="812" y="144" width="4" height="1"/><rect x="89" y="128" width="7" height="1"/><rect x="812" y="128" width="4" height="1"/><rect x="86" y="113" width="14" height="1"/><rect x="809" y="113" width="7" height="1"/><rect x="89" y="97" width="7" height="1"/><rect x="812" y="97" width="4" height="1"/><rect x="89" y="82" width="7" height="1"/><rect x="812" y="82" width="4" height="1"/><rect x="89" y="66" width="7" height="1"/><rect x="812" y="66" width="4" height="1"/></g></g>
<g shape-rendering="crispEdges"><rect x="844.5" y="51.5" width="163" height="166" fill="#fff" stroke="#000" stroke-width="1" shape-rendering="crispEdges"/><path d="M848,59.5 H878" stroke="#CD7D2D" stroke-dasharray="3 1" fill="none"/><path d="M848,76.5 H878" stroke="#000" fill="none"/><path d="M848,92.5 H878" stroke="#00F" stroke-dasharray="3 1 1 1 1 1" fill="none"/><path d="M848,110.0 H878" stroke="#FF0" stroke-width="2" stroke-dasharray="6 2 2 2 2 2" fill="none"/><rect x="848" y="122.00" width="30" height="8.3" fill="url(#gvl)"/><path d="M848,126.5 H878" stroke="#FFA07A" fill="none"/><rect x="848" y="138.65" width="30" height="8.3" fill="url(#glo)"/><path d="M848,142.5 H878" stroke="#DEB887" fill="none"/><rect x="848" y="155.30" width="30" height="8.3" fill="url(#gml)"/><path d="M847,159.5 H878" stroke="#FFDCB6" fill="none"/><rect x="848" y="171.95" width="30" height="8.3" fill="url(#gno)"/><path d="M848,176.5 H878" stroke="#90EE90" fill="none"/><rect x="848" y="188.60" width="30" height="8.3" fill="url(#gmh)"/><path d="M848,192.5 H878" stroke="#7FFFD4" fill="none"/><rect x="848" y="205.25" width="30" height="8.3" fill="url(#ghi)"/><path d="M848,209.5 H878" stroke="#00F" stroke-dasharray="3 1 1 1 1 1" fill="none"/></g>
<g><text x="508.2" y="31.8" font-size="20.8" font-weight="bold" text-anchor="middle">W1R001</text><text x="76" y="428.0" font-size="17.9" text-anchor="end">0</text><text x="76" y="366.0" font-size="17.9" text-anchor="end">20</text><text x="76" y="304.0" font-size="17.9" text-anchor="end">40</text><text x="76" y="242.0" font-size="17.9" text-anchor="end">60</text><text x="76" y="180.0" font-size="17.9" text-anchor="end">80</text><text x="76" y="118.0" font-size="17.9" text-anchor="end">100</text><text x="76" y="56.0" font-size="17.9" text-anchor="end">120</text><text x="122.6" y="452" font-size="17.9" text-anchor="middle">Oct</text><text x="182.9" y="452" font-size="17.9" text-anchor="middle">Nov</text><text x="243.1" y="452" font-size="17.9" text-anchor="middle">Dec</text><text x="303.4" y="452" font-size="17.9" text-anchor="middle">Jan</text><text x="363.6" y="452" font-size="17.9" text-anchor="middle">Feb</text><text x="423.9" y="452" font-size="17.9" text-anchor="middle">Mar</text><text x="484.1" y="452" font-size="17.9" text-anchor="middle">Apr</text><text x="544.4" y="452" font-size="17.9" text-anchor="middle">May</text><text x="604.6" y="452" font-size="17.9" text-anchor="middle">Jun</text><text x="664.9" y="452" font-size="17.9" text-anchor="middle">Jul</text><text x="725.1" y="452" font-size="17.9" text-anchor="middle">Aug</text><text x="785.4" y="452" font-size="17.9" text-anchor="middle">Sep</text><text x="454.3" y="481" font-size="17.9" font-weight="bold" text-anchor="middle">Month</text><text transform="translate(29,236) rotate(-90)" font-size="17.9" font-weight="bold" text-anchor="middle">% Storage</text><text x="886.8" y="62.9" font-size="13.4">Last Year</text><text x="886.8" y="79.6" font-size="13.4">This Year</text><text x="886.8" y="96.2" font-size="13.4">Absolute Maximum</text><text x="886.8" y="112.9" font-size="13.4">Absolute Minimum</text><text x="886.8" y="129.5" font-size="13.4">Very Low</text><text x="886.8" y="146.2" font-size="13.4">Low</text><text x="886.8" y="162.8" font-size="13.4">Moderately Low</text><text x="886.8" y="179.5" font-size="13.4">Normal</text><text x="886.8" y="196.2" font-size="13.4">Moderately High</text><text x="886.8" y="212.8" font-size="13.4">High</text></g>
<rect x="0.5" y="0.5" width="1019" height="499" fill="none" stroke="#000" stroke-width="1" shape-rendering="crispEdges"/>
</svg>
</body></html>
